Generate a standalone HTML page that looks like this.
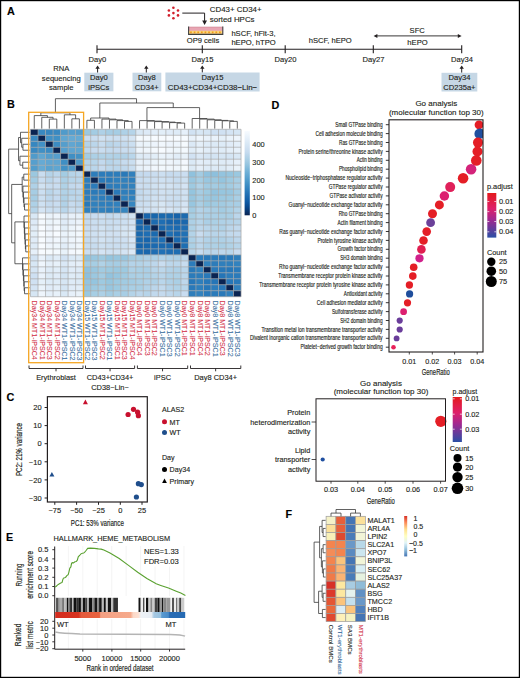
<!DOCTYPE html>
<html><head><meta charset="utf-8"><style>
html,body{margin:0;padding:0;background:#fff;width:520px;height:678px;overflow:hidden}
svg{display:block}
text{font-family:"Liberation Sans", sans-serif}
</style></head><body>
<svg width="520" height="678" viewBox="0 0 520 678">
<rect x="0" y="0" width="520" height="678" fill="#fff"/>
<text x="6.90" y="15.40" font-size="10.8" text-anchor="start" fill="#000" stroke="#000" stroke-width="0.13" font-weight="bold" >A</text>
<circle cx="173.40" cy="7.70" r="1.30" fill="#d11f2b"/>
<circle cx="168.90" cy="10.50" r="1.30" fill="#d11f2b"/>
<circle cx="178.00" cy="10.50" r="1.30" fill="#d11f2b"/>
<circle cx="173.40" cy="13.10" r="1.30" fill="#d11f2b"/>
<circle cx="168.90" cy="15.40" r="1.30" fill="#d11f2b"/>
<circle cx="178.00" cy="15.40" r="1.30" fill="#d11f2b"/>
<circle cx="173.40" cy="18.20" r="1.30" fill="#d11f2b"/>
<path d="M182.3,13.1 H204.6 V21.5" fill="none" stroke="#231f20" stroke-width="1"/>
<path d="M202.2,20.6 L207,20.6 L204.6,25 Z" fill="#231f20"/>
<text x="209.80" y="12.30" font-size="7.9" text-anchor="start" fill="#231f20" stroke="#231f20" stroke-width="0.13" font-weight="normal" >CD43+ CD34+</text>
<text x="209.80" y="21.90" font-size="7.9" text-anchor="start" fill="#231f20" stroke="#231f20" stroke-width="0.13" font-weight="normal" >sorted HPCs</text>
<rect x="188.60" y="26.90" width="34.20" height="7.60" fill="#e8a5b3" stroke="none" stroke-width="1" />
<line x1="188.60" y1="27.10" x2="222.80" y2="27.10" stroke="#c77c8c" stroke-width="0.5"/>
<rect x="189.00" y="30.80" width="33.40" height="3.00" fill="#f9d77c" stroke="none" stroke-width="1" />
<rect x="190.10" y="31.50" width="1.70" height="1.70" fill="#f39a1a" stroke="none" stroke-width="1" />
<rect x="193.72" y="31.50" width="1.70" height="1.70" fill="#f39a1a" stroke="none" stroke-width="1" />
<rect x="197.34" y="31.50" width="1.70" height="1.70" fill="#f39a1a" stroke="none" stroke-width="1" />
<rect x="200.96" y="31.50" width="1.70" height="1.70" fill="#f39a1a" stroke="none" stroke-width="1" />
<rect x="204.58" y="31.50" width="1.70" height="1.70" fill="#f39a1a" stroke="none" stroke-width="1" />
<rect x="208.20" y="31.50" width="1.70" height="1.70" fill="#f39a1a" stroke="none" stroke-width="1" />
<rect x="211.82" y="31.50" width="1.70" height="1.70" fill="#f39a1a" stroke="none" stroke-width="1" />
<rect x="215.44" y="31.50" width="1.70" height="1.70" fill="#f39a1a" stroke="none" stroke-width="1" />
<rect x="219.06" y="31.50" width="1.70" height="1.70" fill="#f39a1a" stroke="none" stroke-width="1" />
<path d="M188.6,26.5 V34.4 H222.8 V26.5" fill="none" stroke="#404040" stroke-width="1.1"/>
<text x="203.00" y="43.20" font-size="7.6" text-anchor="middle" fill="#231f20" stroke="#231f20" stroke-width="0.13" font-weight="normal" >OP9 cells</text>
<text x="231.40" y="35.60" font-size="7.6" text-anchor="start" fill="#231f20" stroke="#231f20" stroke-width="0.13" font-weight="normal" >hSCF, hFlt-3,</text>
<text x="231.40" y="45.20" font-size="7.6" text-anchor="start" fill="#231f20" stroke="#231f20" stroke-width="0.13" font-weight="normal" >hEPO, hTPO</text>
<line x1="97.00" y1="49.20" x2="461.70" y2="49.20" stroke="#231f20" stroke-width="1.1"/>
<line x1="97.00" y1="45.30" x2="97.00" y2="53.20" stroke="#231f20" stroke-width="1.1"/>
<text x="97.30" y="61.80" font-size="7.6" text-anchor="middle" fill="#231f20" stroke="#231f20" stroke-width="0.13" font-weight="normal" >Day0</text>
<line x1="202.30" y1="45.30" x2="202.30" y2="53.20" stroke="#231f20" stroke-width="1.1"/>
<text x="202.60" y="61.80" font-size="7.6" text-anchor="middle" fill="#231f20" stroke="#231f20" stroke-width="0.13" font-weight="normal" >Day15</text>
<line x1="285.20" y1="45.30" x2="285.20" y2="53.20" stroke="#231f20" stroke-width="1.1"/>
<text x="285.50" y="61.80" font-size="7.6" text-anchor="middle" fill="#231f20" stroke="#231f20" stroke-width="0.13" font-weight="normal" >Day20</text>
<line x1="373.30" y1="45.30" x2="373.30" y2="53.20" stroke="#231f20" stroke-width="1.1"/>
<text x="373.60" y="61.80" font-size="7.6" text-anchor="middle" fill="#231f20" stroke="#231f20" stroke-width="0.13" font-weight="normal" >Day27</text>
<line x1="461.70" y1="45.30" x2="461.70" y2="53.20" stroke="#231f20" stroke-width="1.1"/>
<text x="462.00" y="61.80" font-size="7.6" text-anchor="middle" fill="#231f20" stroke="#231f20" stroke-width="0.13" font-weight="normal" >Day34</text>
<text x="330.20" y="42.80" font-size="7.6" text-anchor="middle" fill="#231f20" stroke="#231f20" stroke-width="0.13" font-weight="normal" >hSCF, hEPO</text>
<text x="417.20" y="33.00" font-size="7.6" text-anchor="middle" fill="#231f20" stroke="#231f20" stroke-width="0.13" font-weight="normal" >SFC</text>
<text x="417.50" y="45.30" font-size="7.6" text-anchor="middle" fill="#231f20" stroke="#231f20" stroke-width="0.13" font-weight="normal" >hEPO</text>
<line x1="375.50" y1="35.90" x2="459.70" y2="35.90" stroke="#231f20" stroke-width="0.9"/>
<path d="M373.6,35.9 L377.4,33.9 L377.4,37.9 Z" fill="#231f20"/>
<path d="M461.6,35.9 L457.8,33.9 L457.8,37.9 Z" fill="#231f20"/>
<line x1="97.60" y1="68.00" x2="97.60" y2="72.70" stroke="#231f20" stroke-width="1"/>
<path d="M95.40,68.70 L97.60,65.50 L99.80,68.70 Z" fill="#231f20"/>
<line x1="146.30" y1="68.00" x2="146.30" y2="72.70" stroke="#231f20" stroke-width="1"/>
<path d="M144.10,68.70 L146.30,65.50 L148.50,68.70 Z" fill="#231f20"/>
<line x1="202.30" y1="68.00" x2="202.30" y2="72.70" stroke="#231f20" stroke-width="1"/>
<path d="M200.10,68.70 L202.30,65.50 L204.50,68.70 Z" fill="#231f20"/>
<line x1="461.70" y1="68.00" x2="461.70" y2="72.70" stroke="#231f20" stroke-width="1"/>
<path d="M459.50,68.70 L461.70,65.50 L463.90,68.70 Z" fill="#231f20"/>
<rect x="84.30" y="72.70" width="29.10" height="18.60" fill="#c6d7e5" stroke="none" stroke-width="1" />
<rect x="132.50" y="72.70" width="28.80" height="18.60" fill="#c6d7e5" stroke="none" stroke-width="1" />
<rect x="165.40" y="72.50" width="94.20" height="19.00" fill="#c6d7e5" stroke="none" stroke-width="1" />
<rect x="441.50" y="72.80" width="35.80" height="18.70" fill="#c6d7e5" stroke="none" stroke-width="1" />
<text x="98.80" y="79.70" font-size="7.6" text-anchor="middle" fill="#231f20" stroke="#231f20" stroke-width="0.13" font-weight="normal" >Day0</text>
<text x="98.80" y="89.60" font-size="7.6" text-anchor="middle" fill="#231f20" stroke="#231f20" stroke-width="0.13" font-weight="normal" >iPSCs</text>
<text x="146.80" y="79.70" font-size="7.6" text-anchor="middle" fill="#231f20" stroke="#231f20" stroke-width="0.13" font-weight="normal" >Day8</text>
<text x="146.80" y="89.60" font-size="7.6" text-anchor="middle" fill="#231f20" stroke="#231f20" stroke-width="0.13" font-weight="normal" >CD34+</text>
<text x="212.50" y="79.70" font-size="7.6" text-anchor="middle" fill="#231f20" stroke="#231f20" stroke-width="0.13" font-weight="normal" >Day15</text>
<text x="212.50" y="89.60" font-size="7.9" text-anchor="middle" fill="#231f20" stroke="#231f20" stroke-width="0.13" font-weight="normal" >CD43+CD34+CD38−Lin−</text>
<text x="459.40" y="79.70" font-size="7.6" text-anchor="middle" fill="#231f20" stroke="#231f20" stroke-width="0.13" font-weight="normal" >Day34</text>
<text x="459.40" y="89.60" font-size="7.6" text-anchor="middle" fill="#231f20" stroke="#231f20" stroke-width="0.13" font-weight="normal" >CD235a+</text>
<text x="61.30" y="71.00" font-size="7.6" text-anchor="middle" fill="#231f20" stroke="#231f20" stroke-width="0.13" font-weight="normal" >RNA</text>
<text x="61.30" y="80.80" font-size="7.6" text-anchor="middle" fill="#231f20" stroke="#231f20" stroke-width="0.13" font-weight="normal" >sequencing</text>
<text x="61.30" y="90.20" font-size="7.6" text-anchor="middle" fill="#231f20" stroke="#231f20" stroke-width="0.13" font-weight="normal" >sample</text>
<text x="6.90" y="108.40" font-size="10.8" text-anchor="start" fill="#000" stroke="#000" stroke-width="0.13" font-weight="bold" >B</text>
<g><rect x="30.50" y="129.30" width="7.52" height="5.98" fill="#0a2452"/><rect x="38.02" y="129.30" width="7.52" height="5.98" fill="#3989c1"/><rect x="45.54" y="129.30" width="7.52" height="5.98" fill="#3787c0"/><rect x="53.06" y="129.30" width="7.52" height="5.98" fill="#3989c1"/><rect x="60.58" y="129.30" width="7.52" height="5.98" fill="#4f9bcb"/><rect x="68.10" y="129.30" width="7.52" height="5.98" fill="#569fce"/><rect x="75.62" y="129.30" width="7.52" height="5.98" fill="#529dcc"/><rect x="83.14" y="129.30" width="7.52" height="5.98" fill="#9bc8e0"/><rect x="90.66" y="129.30" width="7.52" height="5.98" fill="#a3cce3"/><rect x="98.18" y="129.30" width="7.52" height="5.98" fill="#afd1e7"/><rect x="105.70" y="129.30" width="7.52" height="5.98" fill="#a6cde4"/><rect x="113.22" y="129.30" width="7.52" height="5.98" fill="#a5cde4"/><rect x="120.74" y="129.30" width="7.52" height="5.98" fill="#aed1e7"/><rect x="128.26" y="129.30" width="7.52" height="5.98" fill="#b5d4e9"/><rect x="135.78" y="129.30" width="7.52" height="5.98" fill="#d9e8f5"/><rect x="143.30" y="129.30" width="7.52" height="5.98" fill="#ddeaf7"/><rect x="150.82" y="129.30" width="7.52" height="5.98" fill="#e1edf8"/><rect x="158.34" y="129.30" width="7.52" height="5.98" fill="#e2eef8"/><rect x="165.86" y="129.30" width="7.52" height="5.98" fill="#e0ecf8"/><rect x="173.38" y="129.30" width="7.52" height="5.98" fill="#deebf7"/><rect x="180.90" y="129.30" width="7.52" height="5.98" fill="#e6f0fa"/><rect x="188.42" y="129.30" width="7.52" height="5.98" fill="#d1e2f3"/><rect x="195.94" y="129.30" width="7.52" height="5.98" fill="#d7e7f5"/><rect x="203.46" y="129.30" width="7.52" height="5.98" fill="#d5e5f4"/><rect x="210.98" y="129.30" width="7.52" height="5.98" fill="#cee0f2"/><rect x="218.50" y="129.30" width="7.52" height="5.98" fill="#d0e1f2"/><rect x="226.02" y="129.30" width="7.52" height="5.98" fill="#d4e4f4"/><rect x="233.54" y="129.30" width="7.52" height="5.98" fill="#d6e6f4"/><rect x="30.50" y="135.28" width="7.52" height="5.98" fill="#3989c1"/><rect x="38.02" y="135.28" width="7.52" height="5.98" fill="#0a2452"/><rect x="45.54" y="135.28" width="7.52" height="5.98" fill="#4191c6"/><rect x="53.06" y="135.28" width="7.52" height="5.98" fill="#4090c5"/><rect x="60.58" y="135.28" width="7.52" height="5.98" fill="#60a7d2"/><rect x="68.10" y="135.28" width="7.52" height="5.98" fill="#66aad4"/><rect x="75.62" y="135.28" width="7.52" height="5.98" fill="#65aad4"/><rect x="83.14" y="135.28" width="7.52" height="5.98" fill="#c9ddf0"/><rect x="90.66" y="135.28" width="7.52" height="5.98" fill="#c9ddf0"/><rect x="98.18" y="135.28" width="7.52" height="5.98" fill="#d0e2f2"/><rect x="105.70" y="135.28" width="7.52" height="5.98" fill="#cbdff1"/><rect x="113.22" y="135.28" width="7.52" height="5.98" fill="#cbdff1"/><rect x="120.74" y="135.28" width="7.52" height="5.98" fill="#cee1f2"/><rect x="128.26" y="135.28" width="7.52" height="5.98" fill="#d5e5f4"/><rect x="135.78" y="135.28" width="7.52" height="5.98" fill="#f5fafe"/><rect x="143.30" y="135.28" width="7.52" height="5.98" fill="#f4f9fe"/><rect x="150.82" y="135.28" width="7.52" height="5.98" fill="#f7fbff"/><rect x="158.34" y="135.28" width="7.52" height="5.98" fill="#f7fbff"/><rect x="165.86" y="135.28" width="7.52" height="5.98" fill="#f7fbff"/><rect x="173.38" y="135.28" width="7.52" height="5.98" fill="#f7fbff"/><rect x="180.90" y="135.28" width="7.52" height="5.98" fill="#f7fbff"/><rect x="188.42" y="135.28" width="7.52" height="5.98" fill="#e9f2fb"/><rect x="195.94" y="135.28" width="7.52" height="5.98" fill="#eff6fd"/><rect x="203.46" y="135.28" width="7.52" height="5.98" fill="#e9f2fb"/><rect x="210.98" y="135.28" width="7.52" height="5.98" fill="#e9f2fb"/><rect x="218.50" y="135.28" width="7.52" height="5.98" fill="#e5f0f9"/><rect x="226.02" y="135.28" width="7.52" height="5.98" fill="#eaf3fb"/><rect x="233.54" y="135.28" width="7.52" height="5.98" fill="#eef5fc"/><rect x="30.50" y="141.26" width="7.52" height="5.98" fill="#3787c0"/><rect x="38.02" y="141.26" width="7.52" height="5.98" fill="#4191c6"/><rect x="45.54" y="141.26" width="7.52" height="5.98" fill="#0a2452"/><rect x="53.06" y="141.26" width="7.52" height="5.98" fill="#3b8bc3"/><rect x="60.58" y="141.26" width="7.52" height="5.98" fill="#549ecd"/><rect x="68.10" y="141.26" width="7.52" height="5.98" fill="#60a6d2"/><rect x="75.62" y="141.26" width="7.52" height="5.98" fill="#5aa3d0"/><rect x="83.14" y="141.26" width="7.52" height="5.98" fill="#b4d3e9"/><rect x="90.66" y="141.26" width="7.52" height="5.98" fill="#bbd6eb"/><rect x="98.18" y="141.26" width="7.52" height="5.98" fill="#c7dcef"/><rect x="105.70" y="141.26" width="7.52" height="5.98" fill="#b9d5ea"/><rect x="113.22" y="141.26" width="7.52" height="5.98" fill="#bdd7ec"/><rect x="120.74" y="141.26" width="7.52" height="5.98" fill="#c4daee"/><rect x="128.26" y="141.26" width="7.52" height="5.98" fill="#cbdff1"/><rect x="135.78" y="141.26" width="7.52" height="5.98" fill="#eaf3fb"/><rect x="143.30" y="141.26" width="7.52" height="5.98" fill="#ebf4fb"/><rect x="150.82" y="141.26" width="7.52" height="5.98" fill="#edf4fc"/><rect x="158.34" y="141.26" width="7.52" height="5.98" fill="#f1f7fd"/><rect x="165.86" y="141.26" width="7.52" height="5.98" fill="#edf4fc"/><rect x="173.38" y="141.26" width="7.52" height="5.98" fill="#eef5fc"/><rect x="180.90" y="141.26" width="7.52" height="5.98" fill="#f5fafe"/><rect x="188.42" y="141.26" width="7.52" height="5.98" fill="#dbe9f6"/><rect x="195.94" y="141.26" width="7.52" height="5.98" fill="#e4eff9"/><rect x="203.46" y="141.26" width="7.52" height="5.98" fill="#deebf7"/><rect x="210.98" y="141.26" width="7.52" height="5.98" fill="#dceaf6"/><rect x="218.50" y="141.26" width="7.52" height="5.98" fill="#ddebf7"/><rect x="226.02" y="141.26" width="7.52" height="5.98" fill="#e0ecf8"/><rect x="233.54" y="141.26" width="7.52" height="5.98" fill="#e4eff9"/><rect x="30.50" y="147.24" width="7.52" height="5.98" fill="#3989c1"/><rect x="38.02" y="147.24" width="7.52" height="5.98" fill="#4090c5"/><rect x="45.54" y="147.24" width="7.52" height="5.98" fill="#3b8bc3"/><rect x="53.06" y="147.24" width="7.52" height="5.98" fill="#0a2452"/><rect x="60.58" y="147.24" width="7.52" height="5.98" fill="#569fce"/><rect x="68.10" y="147.24" width="7.52" height="5.98" fill="#5fa5d1"/><rect x="75.62" y="147.24" width="7.52" height="5.98" fill="#5fa6d1"/><rect x="83.14" y="147.24" width="7.52" height="5.98" fill="#bdd7ec"/><rect x="90.66" y="147.24" width="7.52" height="5.98" fill="#c7dbef"/><rect x="98.18" y="147.24" width="7.52" height="5.98" fill="#c9ddf0"/><rect x="105.70" y="147.24" width="7.52" height="5.98" fill="#c3daee"/><rect x="113.22" y="147.24" width="7.52" height="5.98" fill="#c5daef"/><rect x="120.74" y="147.24" width="7.52" height="5.98" fill="#c9ddf0"/><rect x="128.26" y="147.24" width="7.52" height="5.98" fill="#cadef0"/><rect x="135.78" y="147.24" width="7.52" height="5.98" fill="#eef5fc"/><rect x="143.30" y="147.24" width="7.52" height="5.98" fill="#eff6fc"/><rect x="150.82" y="147.24" width="7.52" height="5.98" fill="#f4f9fe"/><rect x="158.34" y="147.24" width="7.52" height="5.98" fill="#f7fbff"/><rect x="165.86" y="147.24" width="7.52" height="5.98" fill="#f1f7fd"/><rect x="173.38" y="147.24" width="7.52" height="5.98" fill="#eef6fc"/><rect x="180.90" y="147.24" width="7.52" height="5.98" fill="#f3f9fe"/><rect x="188.42" y="147.24" width="7.52" height="5.98" fill="#e1edf8"/><rect x="195.94" y="147.24" width="7.52" height="5.98" fill="#e7f1fa"/><rect x="203.46" y="147.24" width="7.52" height="5.98" fill="#e1edf8"/><rect x="210.98" y="147.24" width="7.52" height="5.98" fill="#e0ecf8"/><rect x="218.50" y="147.24" width="7.52" height="5.98" fill="#dfecf7"/><rect x="226.02" y="147.24" width="7.52" height="5.98" fill="#e3eef8"/><rect x="233.54" y="147.24" width="7.52" height="5.98" fill="#e7f1fa"/><rect x="30.50" y="153.22" width="7.52" height="5.98" fill="#4f9bcb"/><rect x="38.02" y="153.22" width="7.52" height="5.98" fill="#60a7d2"/><rect x="45.54" y="153.22" width="7.52" height="5.98" fill="#549ecd"/><rect x="53.06" y="153.22" width="7.52" height="5.98" fill="#569fce"/><rect x="60.58" y="153.22" width="7.52" height="5.98" fill="#0a2452"/><rect x="68.10" y="153.22" width="7.52" height="5.98" fill="#3f8fc4"/><rect x="75.62" y="153.22" width="7.52" height="5.98" fill="#4191c5"/><rect x="83.14" y="153.22" width="7.52" height="5.98" fill="#a3cce3"/><rect x="90.66" y="153.22" width="7.52" height="5.98" fill="#acd0e6"/><rect x="98.18" y="153.22" width="7.52" height="5.98" fill="#b0d2e7"/><rect x="105.70" y="153.22" width="7.52" height="5.98" fill="#b1d2e8"/><rect x="113.22" y="153.22" width="7.52" height="5.98" fill="#afd1e7"/><rect x="120.74" y="153.22" width="7.52" height="5.98" fill="#b1d2e8"/><rect x="128.26" y="153.22" width="7.52" height="5.98" fill="#b9d6eb"/><rect x="135.78" y="153.22" width="7.52" height="5.98" fill="#ddebf7"/><rect x="143.30" y="153.22" width="7.52" height="5.98" fill="#dfebf7"/><rect x="150.82" y="153.22" width="7.52" height="5.98" fill="#e2eef8"/><rect x="158.34" y="153.22" width="7.52" height="5.98" fill="#eaf3fb"/><rect x="165.86" y="153.22" width="7.52" height="5.98" fill="#e7f1fa"/><rect x="173.38" y="153.22" width="7.52" height="5.98" fill="#e1edf8"/><rect x="180.90" y="153.22" width="7.52" height="5.98" fill="#e8f2fa"/><rect x="188.42" y="153.22" width="7.52" height="5.98" fill="#d1e2f3"/><rect x="195.94" y="153.22" width="7.52" height="5.98" fill="#dae8f6"/><rect x="203.46" y="153.22" width="7.52" height="5.98" fill="#d5e5f4"/><rect x="210.98" y="153.22" width="7.52" height="5.98" fill="#d3e4f3"/><rect x="218.50" y="153.22" width="7.52" height="5.98" fill="#d6e6f4"/><rect x="226.02" y="153.22" width="7.52" height="5.98" fill="#d4e5f4"/><rect x="233.54" y="153.22" width="7.52" height="5.98" fill="#d9e8f5"/><rect x="30.50" y="159.20" width="7.52" height="5.98" fill="#569fce"/><rect x="38.02" y="159.20" width="7.52" height="5.98" fill="#66aad4"/><rect x="45.54" y="159.20" width="7.52" height="5.98" fill="#60a6d2"/><rect x="53.06" y="159.20" width="7.52" height="5.98" fill="#5fa5d1"/><rect x="60.58" y="159.20" width="7.52" height="5.98" fill="#3f8fc4"/><rect x="68.10" y="159.20" width="7.52" height="5.98" fill="#0a2452"/><rect x="75.62" y="159.20" width="7.52" height="5.98" fill="#4d9aca"/><rect x="83.14" y="159.20" width="7.52" height="5.98" fill="#b5d4e9"/><rect x="90.66" y="159.20" width="7.52" height="5.98" fill="#b7d5ea"/><rect x="98.18" y="159.20" width="7.52" height="5.98" fill="#c2d9ee"/><rect x="105.70" y="159.20" width="7.52" height="5.98" fill="#b6d4ea"/><rect x="113.22" y="159.20" width="7.52" height="5.98" fill="#bcd7eb"/><rect x="120.74" y="159.20" width="7.52" height="5.98" fill="#c6dbef"/><rect x="128.26" y="159.20" width="7.52" height="5.98" fill="#cadef0"/><rect x="135.78" y="159.20" width="7.52" height="5.98" fill="#e8f1fa"/><rect x="143.30" y="159.20" width="7.52" height="5.98" fill="#e6f0fa"/><rect x="150.82" y="159.20" width="7.52" height="5.98" fill="#ecf4fb"/><rect x="158.34" y="159.20" width="7.52" height="5.98" fill="#eef6fc"/><rect x="165.86" y="159.20" width="7.52" height="5.98" fill="#eef5fc"/><rect x="173.38" y="159.20" width="7.52" height="5.98" fill="#eaf3fb"/><rect x="180.90" y="159.20" width="7.52" height="5.98" fill="#f3f8fe"/><rect x="188.42" y="159.20" width="7.52" height="5.98" fill="#dae9f6"/><rect x="195.94" y="159.20" width="7.52" height="5.98" fill="#e3eef9"/><rect x="203.46" y="159.20" width="7.52" height="5.98" fill="#e0ecf8"/><rect x="210.98" y="159.20" width="7.52" height="5.98" fill="#dfecf7"/><rect x="218.50" y="159.20" width="7.52" height="5.98" fill="#deebf7"/><rect x="226.02" y="159.20" width="7.52" height="5.98" fill="#e0ecf8"/><rect x="233.54" y="159.20" width="7.52" height="5.98" fill="#e6f0fa"/><rect x="30.50" y="165.18" width="7.52" height="5.98" fill="#529dcc"/><rect x="38.02" y="165.18" width="7.52" height="5.98" fill="#65aad4"/><rect x="45.54" y="165.18" width="7.52" height="5.98" fill="#5aa3d0"/><rect x="53.06" y="165.18" width="7.52" height="5.98" fill="#5fa6d1"/><rect x="60.58" y="165.18" width="7.52" height="5.98" fill="#4191c5"/><rect x="68.10" y="165.18" width="7.52" height="5.98" fill="#4d9aca"/><rect x="75.62" y="165.18" width="7.52" height="5.98" fill="#0a2452"/><rect x="83.14" y="165.18" width="7.52" height="5.98" fill="#b9d6eb"/><rect x="90.66" y="165.18" width="7.52" height="5.98" fill="#bad6eb"/><rect x="98.18" y="165.18" width="7.52" height="5.98" fill="#c5daef"/><rect x="105.70" y="165.18" width="7.52" height="5.98" fill="#bcd7ec"/><rect x="113.22" y="165.18" width="7.52" height="5.98" fill="#bad6eb"/><rect x="120.74" y="165.18" width="7.52" height="5.98" fill="#c0d8ed"/><rect x="128.26" y="165.18" width="7.52" height="5.98" fill="#c8ddf0"/><rect x="135.78" y="165.18" width="7.52" height="5.98" fill="#e7f1fa"/><rect x="143.30" y="165.18" width="7.52" height="5.98" fill="#ebf3fb"/><rect x="150.82" y="165.18" width="7.52" height="5.98" fill="#f1f7fd"/><rect x="158.34" y="165.18" width="7.52" height="5.98" fill="#f2f8fd"/><rect x="165.86" y="165.18" width="7.52" height="5.98" fill="#f0f7fd"/><rect x="173.38" y="165.18" width="7.52" height="5.98" fill="#eff6fc"/><rect x="180.90" y="165.18" width="7.52" height="5.98" fill="#f5fafe"/><rect x="188.42" y="165.18" width="7.52" height="5.98" fill="#dceaf6"/><rect x="195.94" y="165.18" width="7.52" height="5.98" fill="#e5eff9"/><rect x="203.46" y="165.18" width="7.52" height="5.98" fill="#deebf7"/><rect x="210.98" y="165.18" width="7.52" height="5.98" fill="#dceaf6"/><rect x="218.50" y="165.18" width="7.52" height="5.98" fill="#dceaf6"/><rect x="226.02" y="165.18" width="7.52" height="5.98" fill="#e1edf8"/><rect x="233.54" y="165.18" width="7.52" height="5.98" fill="#e9f2fa"/><rect x="30.50" y="171.16" width="7.52" height="5.98" fill="#9bc8e0"/><rect x="38.02" y="171.16" width="7.52" height="5.98" fill="#c9ddf0"/><rect x="45.54" y="171.16" width="7.52" height="5.98" fill="#b4d3e9"/><rect x="53.06" y="171.16" width="7.52" height="5.98" fill="#bdd7ec"/><rect x="60.58" y="171.16" width="7.52" height="5.98" fill="#a3cce3"/><rect x="68.10" y="171.16" width="7.52" height="5.98" fill="#b5d4e9"/><rect x="75.62" y="171.16" width="7.52" height="5.98" fill="#b9d6eb"/><rect x="83.14" y="171.16" width="7.52" height="5.98" fill="#0a2452"/><rect x="90.66" y="171.16" width="7.52" height="5.98" fill="#2d7dbb"/><rect x="98.18" y="171.16" width="7.52" height="5.98" fill="#2c7cbb"/><rect x="105.70" y="171.16" width="7.52" height="5.98" fill="#2c7cbb"/><rect x="113.22" y="171.16" width="7.52" height="5.98" fill="#2d7dbb"/><rect x="120.74" y="171.16" width="7.52" height="5.98" fill="#2979b9"/><rect x="128.26" y="171.16" width="7.52" height="5.98" fill="#3080bd"/><rect x="135.78" y="171.16" width="7.52" height="5.98" fill="#c4daee"/><rect x="143.30" y="171.16" width="7.52" height="5.98" fill="#c5daef"/><rect x="150.82" y="171.16" width="7.52" height="5.98" fill="#caddf0"/><rect x="158.34" y="171.16" width="7.52" height="5.98" fill="#ccdff1"/><rect x="165.86" y="171.16" width="7.52" height="5.98" fill="#c6dbef"/><rect x="173.38" y="171.16" width="7.52" height="5.98" fill="#c7dcef"/><rect x="180.90" y="171.16" width="7.52" height="5.98" fill="#cbdef1"/><rect x="188.42" y="171.16" width="7.52" height="5.98" fill="#8fc2de"/><rect x="195.94" y="171.16" width="7.52" height="5.98" fill="#a3cce3"/><rect x="203.46" y="171.16" width="7.52" height="5.98" fill="#90c2de"/><rect x="210.98" y="171.16" width="7.52" height="5.98" fill="#8dc0dd"/><rect x="218.50" y="171.16" width="7.52" height="5.98" fill="#93c4df"/><rect x="226.02" y="171.16" width="7.52" height="5.98" fill="#95c5df"/><rect x="233.54" y="171.16" width="7.52" height="5.98" fill="#9ac8e0"/><rect x="30.50" y="177.14" width="7.52" height="5.98" fill="#a3cce3"/><rect x="38.02" y="177.14" width="7.52" height="5.98" fill="#c9ddf0"/><rect x="45.54" y="177.14" width="7.52" height="5.98" fill="#bbd6eb"/><rect x="53.06" y="177.14" width="7.52" height="5.98" fill="#c7dbef"/><rect x="60.58" y="177.14" width="7.52" height="5.98" fill="#acd0e6"/><rect x="68.10" y="177.14" width="7.52" height="5.98" fill="#b7d5ea"/><rect x="75.62" y="177.14" width="7.52" height="5.98" fill="#bad6eb"/><rect x="83.14" y="177.14" width="7.52" height="5.98" fill="#2d7dbb"/><rect x="90.66" y="177.14" width="7.52" height="5.98" fill="#0a2452"/><rect x="98.18" y="177.14" width="7.52" height="5.98" fill="#2b7bba"/><rect x="105.70" y="177.14" width="7.52" height="5.98" fill="#2a7ab9"/><rect x="113.22" y="177.14" width="7.52" height="5.98" fill="#3080bd"/><rect x="120.74" y="177.14" width="7.52" height="5.98" fill="#3181bd"/><rect x="128.26" y="177.14" width="7.52" height="5.98" fill="#2e7ebc"/><rect x="135.78" y="177.14" width="7.52" height="5.98" fill="#c8dcf0"/><rect x="143.30" y="177.14" width="7.52" height="5.98" fill="#cadef0"/><rect x="150.82" y="177.14" width="7.52" height="5.98" fill="#cddff1"/><rect x="158.34" y="177.14" width="7.52" height="5.98" fill="#cfe1f2"/><rect x="165.86" y="177.14" width="7.52" height="5.98" fill="#ccdff1"/><rect x="173.38" y="177.14" width="7.52" height="5.98" fill="#c7dcef"/><rect x="180.90" y="177.14" width="7.52" height="5.98" fill="#cde0f1"/><rect x="188.42" y="177.14" width="7.52" height="5.98" fill="#99c7e0"/><rect x="195.94" y="177.14" width="7.52" height="5.98" fill="#a6cee4"/><rect x="203.46" y="177.14" width="7.52" height="5.98" fill="#99c7e0"/><rect x="210.98" y="177.14" width="7.52" height="5.98" fill="#9bc8e0"/><rect x="218.50" y="177.14" width="7.52" height="5.98" fill="#94c5df"/><rect x="226.02" y="177.14" width="7.52" height="5.98" fill="#9ecae1"/><rect x="233.54" y="177.14" width="7.52" height="5.98" fill="#a7cee4"/><rect x="30.50" y="183.12" width="7.52" height="5.98" fill="#afd1e7"/><rect x="38.02" y="183.12" width="7.52" height="5.98" fill="#d0e2f2"/><rect x="45.54" y="183.12" width="7.52" height="5.98" fill="#c7dcef"/><rect x="53.06" y="183.12" width="7.52" height="5.98" fill="#c9ddf0"/><rect x="60.58" y="183.12" width="7.52" height="5.98" fill="#b0d2e7"/><rect x="68.10" y="183.12" width="7.52" height="5.98" fill="#c2d9ee"/><rect x="75.62" y="183.12" width="7.52" height="5.98" fill="#c5daef"/><rect x="83.14" y="183.12" width="7.52" height="5.98" fill="#2c7cbb"/><rect x="90.66" y="183.12" width="7.52" height="5.98" fill="#2b7bba"/><rect x="98.18" y="183.12" width="7.52" height="5.98" fill="#0a2452"/><rect x="105.70" y="183.12" width="7.52" height="5.98" fill="#2c7cbb"/><rect x="113.22" y="183.12" width="7.52" height="5.98" fill="#2d7dbb"/><rect x="120.74" y="183.12" width="7.52" height="5.98" fill="#2f7fbc"/><rect x="128.26" y="183.12" width="7.52" height="5.98" fill="#3181bd"/><rect x="135.78" y="183.12" width="7.52" height="5.98" fill="#cbdef1"/><rect x="143.30" y="183.12" width="7.52" height="5.98" fill="#cadef0"/><rect x="150.82" y="183.12" width="7.52" height="5.98" fill="#d0e2f2"/><rect x="158.34" y="183.12" width="7.52" height="5.98" fill="#d2e3f3"/><rect x="165.86" y="183.12" width="7.52" height="5.98" fill="#d2e3f3"/><rect x="173.38" y="183.12" width="7.52" height="5.98" fill="#cde0f1"/><rect x="180.90" y="183.12" width="7.52" height="5.98" fill="#d4e4f4"/><rect x="188.42" y="183.12" width="7.52" height="5.98" fill="#9ecae1"/><rect x="195.94" y="183.12" width="7.52" height="5.98" fill="#b0d2e7"/><rect x="203.46" y="183.12" width="7.52" height="5.98" fill="#a1cbe2"/><rect x="210.98" y="183.12" width="7.52" height="5.98" fill="#a3cce3"/><rect x="218.50" y="183.12" width="7.52" height="5.98" fill="#9ecae1"/><rect x="226.02" y="183.12" width="7.52" height="5.98" fill="#a2cce3"/><rect x="233.54" y="183.12" width="7.52" height="5.98" fill="#acd0e6"/><rect x="30.50" y="189.10" width="7.52" height="5.98" fill="#a6cde4"/><rect x="38.02" y="189.10" width="7.52" height="5.98" fill="#cbdff1"/><rect x="45.54" y="189.10" width="7.52" height="5.98" fill="#b9d5ea"/><rect x="53.06" y="189.10" width="7.52" height="5.98" fill="#c3daee"/><rect x="60.58" y="189.10" width="7.52" height="5.98" fill="#b1d2e8"/><rect x="68.10" y="189.10" width="7.52" height="5.98" fill="#b6d4ea"/><rect x="75.62" y="189.10" width="7.52" height="5.98" fill="#bcd7ec"/><rect x="83.14" y="189.10" width="7.52" height="5.98" fill="#2c7cbb"/><rect x="90.66" y="189.10" width="7.52" height="5.98" fill="#2a7ab9"/><rect x="98.18" y="189.10" width="7.52" height="5.98" fill="#2c7cbb"/><rect x="105.70" y="189.10" width="7.52" height="5.98" fill="#0a2452"/><rect x="113.22" y="189.10" width="7.52" height="5.98" fill="#2979b9"/><rect x="120.74" y="189.10" width="7.52" height="5.98" fill="#2e7ebc"/><rect x="128.26" y="189.10" width="7.52" height="5.98" fill="#2e7ebc"/><rect x="135.78" y="189.10" width="7.52" height="5.98" fill="#c2d9ee"/><rect x="143.30" y="189.10" width="7.52" height="5.98" fill="#c9ddf0"/><rect x="150.82" y="189.10" width="7.52" height="5.98" fill="#cadef0"/><rect x="158.34" y="189.10" width="7.52" height="5.98" fill="#d0e1f2"/><rect x="165.86" y="189.10" width="7.52" height="5.98" fill="#cde0f1"/><rect x="173.38" y="189.10" width="7.52" height="5.98" fill="#cadef0"/><rect x="180.90" y="189.10" width="7.52" height="5.98" fill="#cfe1f2"/><rect x="188.42" y="189.10" width="7.52" height="5.98" fill="#94c5df"/><rect x="195.94" y="189.10" width="7.52" height="5.98" fill="#a6cde4"/><rect x="203.46" y="189.10" width="7.52" height="5.98" fill="#9dcae1"/><rect x="210.98" y="189.10" width="7.52" height="5.98" fill="#92c3de"/><rect x="218.50" y="189.10" width="7.52" height="5.98" fill="#96c6df"/><rect x="226.02" y="189.10" width="7.52" height="5.98" fill="#97c6e0"/><rect x="233.54" y="189.10" width="7.52" height="5.98" fill="#a3cce3"/><rect x="30.50" y="195.08" width="7.52" height="5.98" fill="#a5cde4"/><rect x="38.02" y="195.08" width="7.52" height="5.98" fill="#cbdff1"/><rect x="45.54" y="195.08" width="7.52" height="5.98" fill="#bdd7ec"/><rect x="53.06" y="195.08" width="7.52" height="5.98" fill="#c5daef"/><rect x="60.58" y="195.08" width="7.52" height="5.98" fill="#afd1e7"/><rect x="68.10" y="195.08" width="7.52" height="5.98" fill="#bcd7eb"/><rect x="75.62" y="195.08" width="7.52" height="5.98" fill="#bad6eb"/><rect x="83.14" y="195.08" width="7.52" height="5.98" fill="#2d7dbb"/><rect x="90.66" y="195.08" width="7.52" height="5.98" fill="#3080bd"/><rect x="98.18" y="195.08" width="7.52" height="5.98" fill="#2d7dbb"/><rect x="105.70" y="195.08" width="7.52" height="5.98" fill="#2979b9"/><rect x="113.22" y="195.08" width="7.52" height="5.98" fill="#0a2452"/><rect x="120.74" y="195.08" width="7.52" height="5.98" fill="#3181bd"/><rect x="128.26" y="195.08" width="7.52" height="5.98" fill="#3181bd"/><rect x="135.78" y="195.08" width="7.52" height="5.98" fill="#c7dcef"/><rect x="143.30" y="195.08" width="7.52" height="5.98" fill="#c9ddf0"/><rect x="150.82" y="195.08" width="7.52" height="5.98" fill="#cfe1f2"/><rect x="158.34" y="195.08" width="7.52" height="5.98" fill="#d0e1f2"/><rect x="165.86" y="195.08" width="7.52" height="5.98" fill="#ccdff1"/><rect x="173.38" y="195.08" width="7.52" height="5.98" fill="#cadef0"/><rect x="180.90" y="195.08" width="7.52" height="5.98" fill="#d0e2f2"/><rect x="188.42" y="195.08" width="7.52" height="5.98" fill="#97c6df"/><rect x="195.94" y="195.08" width="7.52" height="5.98" fill="#a5cde4"/><rect x="203.46" y="195.08" width="7.52" height="5.98" fill="#9bc8e0"/><rect x="210.98" y="195.08" width="7.52" height="5.98" fill="#97c6df"/><rect x="218.50" y="195.08" width="7.52" height="5.98" fill="#9cc9e1"/><rect x="226.02" y="195.08" width="7.52" height="5.98" fill="#9dcae1"/><rect x="233.54" y="195.08" width="7.52" height="5.98" fill="#a9cfe5"/><rect x="30.50" y="201.06" width="7.52" height="5.98" fill="#aed1e7"/><rect x="38.02" y="201.06" width="7.52" height="5.98" fill="#cee1f2"/><rect x="45.54" y="201.06" width="7.52" height="5.98" fill="#c4daee"/><rect x="53.06" y="201.06" width="7.52" height="5.98" fill="#c9ddf0"/><rect x="60.58" y="201.06" width="7.52" height="5.98" fill="#b1d2e8"/><rect x="68.10" y="201.06" width="7.52" height="5.98" fill="#c6dbef"/><rect x="75.62" y="201.06" width="7.52" height="5.98" fill="#c0d8ed"/><rect x="83.14" y="201.06" width="7.52" height="5.98" fill="#2979b9"/><rect x="90.66" y="201.06" width="7.52" height="5.98" fill="#3181bd"/><rect x="98.18" y="201.06" width="7.52" height="5.98" fill="#2f7fbc"/><rect x="105.70" y="201.06" width="7.52" height="5.98" fill="#2e7ebc"/><rect x="113.22" y="201.06" width="7.52" height="5.98" fill="#3181bd"/><rect x="120.74" y="201.06" width="7.52" height="5.98" fill="#0a2452"/><rect x="128.26" y="201.06" width="7.52" height="5.98" fill="#3686c0"/><rect x="135.78" y="201.06" width="7.52" height="5.98" fill="#c9ddf0"/><rect x="143.30" y="201.06" width="7.52" height="5.98" fill="#ccdff1"/><rect x="150.82" y="201.06" width="7.52" height="5.98" fill="#d3e4f3"/><rect x="158.34" y="201.06" width="7.52" height="5.98" fill="#d6e6f4"/><rect x="165.86" y="201.06" width="7.52" height="5.98" fill="#cee0f2"/><rect x="173.38" y="201.06" width="7.52" height="5.98" fill="#cbdff1"/><rect x="180.90" y="201.06" width="7.52" height="5.98" fill="#d4e4f4"/><rect x="188.42" y="201.06" width="7.52" height="5.98" fill="#97c6e0"/><rect x="195.94" y="201.06" width="7.52" height="5.98" fill="#aacfe5"/><rect x="203.46" y="201.06" width="7.52" height="5.98" fill="#9dcae1"/><rect x="210.98" y="201.06" width="7.52" height="5.98" fill="#a0cbe2"/><rect x="218.50" y="201.06" width="7.52" height="5.98" fill="#a1cbe2"/><rect x="226.02" y="201.06" width="7.52" height="5.98" fill="#a6cde4"/><rect x="233.54" y="201.06" width="7.52" height="5.98" fill="#a8cee5"/><rect x="30.50" y="207.04" width="7.52" height="5.98" fill="#b5d4e9"/><rect x="38.02" y="207.04" width="7.52" height="5.98" fill="#d5e5f4"/><rect x="45.54" y="207.04" width="7.52" height="5.98" fill="#cbdff1"/><rect x="53.06" y="207.04" width="7.52" height="5.98" fill="#cadef0"/><rect x="60.58" y="207.04" width="7.52" height="5.98" fill="#b9d6eb"/><rect x="68.10" y="207.04" width="7.52" height="5.98" fill="#cadef0"/><rect x="75.62" y="207.04" width="7.52" height="5.98" fill="#c8ddf0"/><rect x="83.14" y="207.04" width="7.52" height="5.98" fill="#3080bd"/><rect x="90.66" y="207.04" width="7.52" height="5.98" fill="#2e7ebc"/><rect x="98.18" y="207.04" width="7.52" height="5.98" fill="#3181bd"/><rect x="105.70" y="207.04" width="7.52" height="5.98" fill="#2e7ebc"/><rect x="113.22" y="207.04" width="7.52" height="5.98" fill="#3181bd"/><rect x="120.74" y="207.04" width="7.52" height="5.98" fill="#3686c0"/><rect x="128.26" y="207.04" width="7.52" height="5.98" fill="#0a2452"/><rect x="135.78" y="207.04" width="7.52" height="5.98" fill="#d0e2f2"/><rect x="143.30" y="207.04" width="7.52" height="5.98" fill="#d1e2f3"/><rect x="150.82" y="207.04" width="7.52" height="5.98" fill="#d3e3f3"/><rect x="158.34" y="207.04" width="7.52" height="5.98" fill="#dbe9f6"/><rect x="165.86" y="207.04" width="7.52" height="5.98" fill="#d7e6f5"/><rect x="173.38" y="207.04" width="7.52" height="5.98" fill="#d0e2f2"/><rect x="180.90" y="207.04" width="7.52" height="5.98" fill="#dbe9f6"/><rect x="188.42" y="207.04" width="7.52" height="5.98" fill="#a3cce3"/><rect x="195.94" y="207.04" width="7.52" height="5.98" fill="#b4d3e9"/><rect x="203.46" y="207.04" width="7.52" height="5.98" fill="#aed1e7"/><rect x="210.98" y="207.04" width="7.52" height="5.98" fill="#aacfe5"/><rect x="218.50" y="207.04" width="7.52" height="5.98" fill="#a3cce3"/><rect x="226.02" y="207.04" width="7.52" height="5.98" fill="#a9cfe5"/><rect x="233.54" y="207.04" width="7.52" height="5.98" fill="#b3d3e8"/><rect x="30.50" y="213.02" width="7.52" height="5.98" fill="#d9e8f5"/><rect x="38.02" y="213.02" width="7.52" height="5.98" fill="#f5fafe"/><rect x="45.54" y="213.02" width="7.52" height="5.98" fill="#eaf3fb"/><rect x="53.06" y="213.02" width="7.52" height="5.98" fill="#eef5fc"/><rect x="60.58" y="213.02" width="7.52" height="5.98" fill="#ddebf7"/><rect x="68.10" y="213.02" width="7.52" height="5.98" fill="#e8f1fa"/><rect x="75.62" y="213.02" width="7.52" height="5.98" fill="#e7f1fa"/><rect x="83.14" y="213.02" width="7.52" height="5.98" fill="#c4daee"/><rect x="90.66" y="213.02" width="7.52" height="5.98" fill="#c8dcf0"/><rect x="98.18" y="213.02" width="7.52" height="5.98" fill="#cbdef1"/><rect x="105.70" y="213.02" width="7.52" height="5.98" fill="#c2d9ee"/><rect x="113.22" y="213.02" width="7.52" height="5.98" fill="#c7dcef"/><rect x="120.74" y="213.02" width="7.52" height="5.98" fill="#c9ddf0"/><rect x="128.26" y="213.02" width="7.52" height="5.98" fill="#d0e2f2"/><rect x="135.78" y="213.02" width="7.52" height="5.98" fill="#0a2452"/><rect x="143.30" y="213.02" width="7.52" height="5.98" fill="#1865ac"/><rect x="150.82" y="213.02" width="7.52" height="5.98" fill="#1866ac"/><rect x="158.34" y="213.02" width="7.52" height="5.98" fill="#1a69ae"/><rect x="165.86" y="213.02" width="7.52" height="5.98" fill="#1b6aaf"/><rect x="173.38" y="213.02" width="7.52" height="5.98" fill="#1663aa"/><rect x="180.90" y="213.02" width="7.52" height="5.98" fill="#1c6bb0"/><rect x="188.42" y="213.02" width="7.52" height="5.98" fill="#a7cee4"/><rect x="195.94" y="213.02" width="7.52" height="5.98" fill="#b3d3e8"/><rect x="203.46" y="213.02" width="7.52" height="5.98" fill="#abd0e6"/><rect x="210.98" y="213.02" width="7.52" height="5.98" fill="#abd0e6"/><rect x="218.50" y="213.02" width="7.52" height="5.98" fill="#a9cfe5"/><rect x="226.02" y="213.02" width="7.52" height="5.98" fill="#a9cfe5"/><rect x="233.54" y="213.02" width="7.52" height="5.98" fill="#bbd6eb"/><rect x="30.50" y="219.00" width="7.52" height="5.98" fill="#ddeaf7"/><rect x="38.02" y="219.00" width="7.52" height="5.98" fill="#f4f9fe"/><rect x="45.54" y="219.00" width="7.52" height="5.98" fill="#ebf4fb"/><rect x="53.06" y="219.00" width="7.52" height="5.98" fill="#eff6fc"/><rect x="60.58" y="219.00" width="7.52" height="5.98" fill="#dfebf7"/><rect x="68.10" y="219.00" width="7.52" height="5.98" fill="#e6f0fa"/><rect x="75.62" y="219.00" width="7.52" height="5.98" fill="#ebf3fb"/><rect x="83.14" y="219.00" width="7.52" height="5.98" fill="#c5daef"/><rect x="90.66" y="219.00" width="7.52" height="5.98" fill="#cadef0"/><rect x="98.18" y="219.00" width="7.52" height="5.98" fill="#cadef0"/><rect x="105.70" y="219.00" width="7.52" height="5.98" fill="#c9ddf0"/><rect x="113.22" y="219.00" width="7.52" height="5.98" fill="#c9ddf0"/><rect x="120.74" y="219.00" width="7.52" height="5.98" fill="#ccdff1"/><rect x="128.26" y="219.00" width="7.52" height="5.98" fill="#d1e2f3"/><rect x="135.78" y="219.00" width="7.52" height="5.98" fill="#1865ac"/><rect x="143.30" y="219.00" width="7.52" height="5.98" fill="#0a2452"/><rect x="150.82" y="219.00" width="7.52" height="5.98" fill="#1c6bb0"/><rect x="158.34" y="219.00" width="7.52" height="5.98" fill="#1f6eb3"/><rect x="165.86" y="219.00" width="7.52" height="5.98" fill="#1865ac"/><rect x="173.38" y="219.00" width="7.52" height="5.98" fill="#1866ac"/><rect x="180.90" y="219.00" width="7.52" height="5.98" fill="#1967ad"/><rect x="188.42" y="219.00" width="7.52" height="5.98" fill="#add0e6"/><rect x="195.94" y="219.00" width="7.52" height="5.98" fill="#b7d5ea"/><rect x="203.46" y="219.00" width="7.52" height="5.98" fill="#abcfe6"/><rect x="210.98" y="219.00" width="7.52" height="5.98" fill="#abd0e6"/><rect x="218.50" y="219.00" width="7.52" height="5.98" fill="#afd1e7"/><rect x="226.02" y="219.00" width="7.52" height="5.98" fill="#b2d2e8"/><rect x="233.54" y="219.00" width="7.52" height="5.98" fill="#b6d4e9"/><rect x="30.50" y="224.98" width="7.52" height="5.98" fill="#e1edf8"/><rect x="38.02" y="224.98" width="7.52" height="5.98" fill="#f7fbff"/><rect x="45.54" y="224.98" width="7.52" height="5.98" fill="#edf4fc"/><rect x="53.06" y="224.98" width="7.52" height="5.98" fill="#f4f9fe"/><rect x="60.58" y="224.98" width="7.52" height="5.98" fill="#e2eef8"/><rect x="68.10" y="224.98" width="7.52" height="5.98" fill="#ecf4fb"/><rect x="75.62" y="224.98" width="7.52" height="5.98" fill="#f1f7fd"/><rect x="83.14" y="224.98" width="7.52" height="5.98" fill="#caddf0"/><rect x="90.66" y="224.98" width="7.52" height="5.98" fill="#cddff1"/><rect x="98.18" y="224.98" width="7.52" height="5.98" fill="#d0e2f2"/><rect x="105.70" y="224.98" width="7.52" height="5.98" fill="#cadef0"/><rect x="113.22" y="224.98" width="7.52" height="5.98" fill="#cfe1f2"/><rect x="120.74" y="224.98" width="7.52" height="5.98" fill="#d3e4f3"/><rect x="128.26" y="224.98" width="7.52" height="5.98" fill="#d3e3f3"/><rect x="135.78" y="224.98" width="7.52" height="5.98" fill="#1866ac"/><rect x="143.30" y="224.98" width="7.52" height="5.98" fill="#1c6bb0"/><rect x="150.82" y="224.98" width="7.52" height="5.98" fill="#0a2452"/><rect x="158.34" y="224.98" width="7.52" height="5.98" fill="#1b6aaf"/><rect x="165.86" y="224.98" width="7.52" height="5.98" fill="#1f6eb3"/><rect x="173.38" y="224.98" width="7.52" height="5.98" fill="#1c6ab0"/><rect x="180.90" y="224.98" width="7.52" height="5.98" fill="#1f6eb3"/><rect x="188.42" y="224.98" width="7.52" height="5.98" fill="#aed1e6"/><rect x="195.94" y="224.98" width="7.52" height="5.98" fill="#bdd7ec"/><rect x="203.46" y="224.98" width="7.52" height="5.98" fill="#b8d5ea"/><rect x="210.98" y="224.98" width="7.52" height="5.98" fill="#b3d3e8"/><rect x="218.50" y="224.98" width="7.52" height="5.98" fill="#afd1e7"/><rect x="226.02" y="224.98" width="7.52" height="5.98" fill="#bbd6eb"/><rect x="233.54" y="224.98" width="7.52" height="5.98" fill="#c1d9ed"/><rect x="30.50" y="230.96" width="7.52" height="5.98" fill="#e2eef8"/><rect x="38.02" y="230.96" width="7.52" height="5.98" fill="#f7fbff"/><rect x="45.54" y="230.96" width="7.52" height="5.98" fill="#f1f7fd"/><rect x="53.06" y="230.96" width="7.52" height="5.98" fill="#f7fbff"/><rect x="60.58" y="230.96" width="7.52" height="5.98" fill="#eaf3fb"/><rect x="68.10" y="230.96" width="7.52" height="5.98" fill="#eef6fc"/><rect x="75.62" y="230.96" width="7.52" height="5.98" fill="#f2f8fd"/><rect x="83.14" y="230.96" width="7.52" height="5.98" fill="#ccdff1"/><rect x="90.66" y="230.96" width="7.52" height="5.98" fill="#cfe1f2"/><rect x="98.18" y="230.96" width="7.52" height="5.98" fill="#d2e3f3"/><rect x="105.70" y="230.96" width="7.52" height="5.98" fill="#d0e1f2"/><rect x="113.22" y="230.96" width="7.52" height="5.98" fill="#d0e1f2"/><rect x="120.74" y="230.96" width="7.52" height="5.98" fill="#d6e6f4"/><rect x="128.26" y="230.96" width="7.52" height="5.98" fill="#dbe9f6"/><rect x="135.78" y="230.96" width="7.52" height="5.98" fill="#1a69ae"/><rect x="143.30" y="230.96" width="7.52" height="5.98" fill="#1f6eb3"/><rect x="150.82" y="230.96" width="7.52" height="5.98" fill="#1b6aaf"/><rect x="158.34" y="230.96" width="7.52" height="5.98" fill="#0a2452"/><rect x="165.86" y="230.96" width="7.52" height="5.98" fill="#1f6fb3"/><rect x="173.38" y="230.96" width="7.52" height="5.98" fill="#1a68ae"/><rect x="180.90" y="230.96" width="7.52" height="5.98" fill="#2171b5"/><rect x="188.42" y="230.96" width="7.52" height="5.98" fill="#b3d3e8"/><rect x="195.94" y="230.96" width="7.52" height="5.98" fill="#c9ddf0"/><rect x="203.46" y="230.96" width="7.52" height="5.98" fill="#bcd7eb"/><rect x="210.98" y="230.96" width="7.52" height="5.98" fill="#b8d5ea"/><rect x="218.50" y="230.96" width="7.52" height="5.98" fill="#b9d6eb"/><rect x="226.02" y="230.96" width="7.52" height="5.98" fill="#c1d9ed"/><rect x="233.54" y="230.96" width="7.52" height="5.98" fill="#c4daee"/><rect x="30.50" y="236.94" width="7.52" height="5.98" fill="#e0ecf8"/><rect x="38.02" y="236.94" width="7.52" height="5.98" fill="#f7fbff"/><rect x="45.54" y="236.94" width="7.52" height="5.98" fill="#edf4fc"/><rect x="53.06" y="236.94" width="7.52" height="5.98" fill="#f1f7fd"/><rect x="60.58" y="236.94" width="7.52" height="5.98" fill="#e7f1fa"/><rect x="68.10" y="236.94" width="7.52" height="5.98" fill="#eef5fc"/><rect x="75.62" y="236.94" width="7.52" height="5.98" fill="#f0f7fd"/><rect x="83.14" y="236.94" width="7.52" height="5.98" fill="#c6dbef"/><rect x="90.66" y="236.94" width="7.52" height="5.98" fill="#ccdff1"/><rect x="98.18" y="236.94" width="7.52" height="5.98" fill="#d2e3f3"/><rect x="105.70" y="236.94" width="7.52" height="5.98" fill="#cde0f1"/><rect x="113.22" y="236.94" width="7.52" height="5.98" fill="#ccdff1"/><rect x="120.74" y="236.94" width="7.52" height="5.98" fill="#cee0f2"/><rect x="128.26" y="236.94" width="7.52" height="5.98" fill="#d7e6f5"/><rect x="135.78" y="236.94" width="7.52" height="5.98" fill="#1b6aaf"/><rect x="143.30" y="236.94" width="7.52" height="5.98" fill="#1865ac"/><rect x="150.82" y="236.94" width="7.52" height="5.98" fill="#1f6eb3"/><rect x="158.34" y="236.94" width="7.52" height="5.98" fill="#1f6fb3"/><rect x="165.86" y="236.94" width="7.52" height="5.98" fill="#0a2452"/><rect x="173.38" y="236.94" width="7.52" height="5.98" fill="#1967ad"/><rect x="180.90" y="236.94" width="7.52" height="5.98" fill="#1e6db2"/><rect x="188.42" y="236.94" width="7.52" height="5.98" fill="#aed1e7"/><rect x="195.94" y="236.94" width="7.52" height="5.98" fill="#bcd7ec"/><rect x="203.46" y="236.94" width="7.52" height="5.98" fill="#b2d2e8"/><rect x="210.98" y="236.94" width="7.52" height="5.98" fill="#aed1e7"/><rect x="218.50" y="236.94" width="7.52" height="5.98" fill="#afd1e7"/><rect x="226.02" y="236.94" width="7.52" height="5.98" fill="#b4d3e9"/><rect x="233.54" y="236.94" width="7.52" height="5.98" fill="#bdd7ec"/><rect x="30.50" y="242.92" width="7.52" height="5.98" fill="#deebf7"/><rect x="38.02" y="242.92" width="7.52" height="5.98" fill="#f7fbff"/><rect x="45.54" y="242.92" width="7.52" height="5.98" fill="#eef5fc"/><rect x="53.06" y="242.92" width="7.52" height="5.98" fill="#eef6fc"/><rect x="60.58" y="242.92" width="7.52" height="5.98" fill="#e1edf8"/><rect x="68.10" y="242.92" width="7.52" height="5.98" fill="#eaf3fb"/><rect x="75.62" y="242.92" width="7.52" height="5.98" fill="#eff6fc"/><rect x="83.14" y="242.92" width="7.52" height="5.98" fill="#c7dcef"/><rect x="90.66" y="242.92" width="7.52" height="5.98" fill="#c7dcef"/><rect x="98.18" y="242.92" width="7.52" height="5.98" fill="#cde0f1"/><rect x="105.70" y="242.92" width="7.52" height="5.98" fill="#cadef0"/><rect x="113.22" y="242.92" width="7.52" height="5.98" fill="#cadef0"/><rect x="120.74" y="242.92" width="7.52" height="5.98" fill="#cbdff1"/><rect x="128.26" y="242.92" width="7.52" height="5.98" fill="#d0e2f2"/><rect x="135.78" y="242.92" width="7.52" height="5.98" fill="#1663aa"/><rect x="143.30" y="242.92" width="7.52" height="5.98" fill="#1866ac"/><rect x="150.82" y="242.92" width="7.52" height="5.98" fill="#1c6ab0"/><rect x="158.34" y="242.92" width="7.52" height="5.98" fill="#1a68ae"/><rect x="165.86" y="242.92" width="7.52" height="5.98" fill="#1967ad"/><rect x="173.38" y="242.92" width="7.52" height="5.98" fill="#0a2452"/><rect x="180.90" y="242.92" width="7.52" height="5.98" fill="#1e6eb2"/><rect x="188.42" y="242.92" width="7.52" height="5.98" fill="#abd0e6"/><rect x="195.94" y="242.92" width="7.52" height="5.98" fill="#bcd7ec"/><rect x="203.46" y="242.92" width="7.52" height="5.98" fill="#afd1e7"/><rect x="210.98" y="242.92" width="7.52" height="5.98" fill="#aed1e6"/><rect x="218.50" y="242.92" width="7.52" height="5.98" fill="#aacfe5"/><rect x="226.02" y="242.92" width="7.52" height="5.98" fill="#b0d2e7"/><rect x="233.54" y="242.92" width="7.52" height="5.98" fill="#b7d5ea"/><rect x="30.50" y="248.90" width="7.52" height="5.98" fill="#e6f0fa"/><rect x="38.02" y="248.90" width="7.52" height="5.98" fill="#f7fbff"/><rect x="45.54" y="248.90" width="7.52" height="5.98" fill="#f5fafe"/><rect x="53.06" y="248.90" width="7.52" height="5.98" fill="#f3f9fe"/><rect x="60.58" y="248.90" width="7.52" height="5.98" fill="#e8f2fa"/><rect x="68.10" y="248.90" width="7.52" height="5.98" fill="#f3f8fe"/><rect x="75.62" y="248.90" width="7.52" height="5.98" fill="#f5fafe"/><rect x="83.14" y="248.90" width="7.52" height="5.98" fill="#cbdef1"/><rect x="90.66" y="248.90" width="7.52" height="5.98" fill="#cde0f1"/><rect x="98.18" y="248.90" width="7.52" height="5.98" fill="#d4e4f4"/><rect x="105.70" y="248.90" width="7.52" height="5.98" fill="#cfe1f2"/><rect x="113.22" y="248.90" width="7.52" height="5.98" fill="#d0e2f2"/><rect x="120.74" y="248.90" width="7.52" height="5.98" fill="#d4e4f4"/><rect x="128.26" y="248.90" width="7.52" height="5.98" fill="#dbe9f6"/><rect x="135.78" y="248.90" width="7.52" height="5.98" fill="#1c6bb0"/><rect x="143.30" y="248.90" width="7.52" height="5.98" fill="#1967ad"/><rect x="150.82" y="248.90" width="7.52" height="5.98" fill="#1f6eb3"/><rect x="158.34" y="248.90" width="7.52" height="5.98" fill="#2171b5"/><rect x="165.86" y="248.90" width="7.52" height="5.98" fill="#1e6db2"/><rect x="173.38" y="248.90" width="7.52" height="5.98" fill="#1e6eb2"/><rect x="180.90" y="248.90" width="7.52" height="5.98" fill="#0a2452"/><rect x="188.42" y="248.90" width="7.52" height="5.98" fill="#bad6eb"/><rect x="195.94" y="248.90" width="7.52" height="5.98" fill="#c7dcef"/><rect x="203.46" y="248.90" width="7.52" height="5.98" fill="#bad6eb"/><rect x="210.98" y="248.90" width="7.52" height="5.98" fill="#bad6eb"/><rect x="218.50" y="248.90" width="7.52" height="5.98" fill="#bed7ec"/><rect x="226.02" y="248.90" width="7.52" height="5.98" fill="#b9d6eb"/><rect x="233.54" y="248.90" width="7.52" height="5.98" fill="#c8dcf0"/><rect x="30.50" y="254.88" width="7.52" height="5.98" fill="#d1e2f3"/><rect x="38.02" y="254.88" width="7.52" height="5.98" fill="#e9f2fb"/><rect x="45.54" y="254.88" width="7.52" height="5.98" fill="#dbe9f6"/><rect x="53.06" y="254.88" width="7.52" height="5.98" fill="#e1edf8"/><rect x="60.58" y="254.88" width="7.52" height="5.98" fill="#d1e2f3"/><rect x="68.10" y="254.88" width="7.52" height="5.98" fill="#dae9f6"/><rect x="75.62" y="254.88" width="7.52" height="5.98" fill="#dceaf6"/><rect x="83.14" y="254.88" width="7.52" height="5.98" fill="#8fc2de"/><rect x="90.66" y="254.88" width="7.52" height="5.98" fill="#99c7e0"/><rect x="98.18" y="254.88" width="7.52" height="5.98" fill="#9ecae1"/><rect x="105.70" y="254.88" width="7.52" height="5.98" fill="#94c5df"/><rect x="113.22" y="254.88" width="7.52" height="5.98" fill="#97c6df"/><rect x="120.74" y="254.88" width="7.52" height="5.98" fill="#97c6e0"/><rect x="128.26" y="254.88" width="7.52" height="5.98" fill="#a3cce3"/><rect x="135.78" y="254.88" width="7.52" height="5.98" fill="#a7cee4"/><rect x="143.30" y="254.88" width="7.52" height="5.98" fill="#add0e6"/><rect x="150.82" y="254.88" width="7.52" height="5.98" fill="#aed1e6"/><rect x="158.34" y="254.88" width="7.52" height="5.98" fill="#b3d3e8"/><rect x="165.86" y="254.88" width="7.52" height="5.98" fill="#aed1e7"/><rect x="173.38" y="254.88" width="7.52" height="5.98" fill="#abd0e6"/><rect x="180.90" y="254.88" width="7.52" height="5.98" fill="#bad6eb"/><rect x="188.42" y="254.88" width="7.52" height="5.98" fill="#0a2452"/><rect x="195.94" y="254.88" width="7.52" height="5.98" fill="#2c7cbb"/><rect x="203.46" y="254.88" width="7.52" height="5.98" fill="#2979b9"/><rect x="210.98" y="254.88" width="7.52" height="5.98" fill="#2b7bba"/><rect x="218.50" y="254.88" width="7.52" height="5.98" fill="#2777b8"/><rect x="226.02" y="254.88" width="7.52" height="5.98" fill="#2979b9"/><rect x="233.54" y="254.88" width="7.52" height="5.98" fill="#2e7ebb"/><rect x="30.50" y="260.86" width="7.52" height="5.98" fill="#d7e7f5"/><rect x="38.02" y="260.86" width="7.52" height="5.98" fill="#eff6fd"/><rect x="45.54" y="260.86" width="7.52" height="5.98" fill="#e4eff9"/><rect x="53.06" y="260.86" width="7.52" height="5.98" fill="#e7f1fa"/><rect x="60.58" y="260.86" width="7.52" height="5.98" fill="#dae8f6"/><rect x="68.10" y="260.86" width="7.52" height="5.98" fill="#e3eef9"/><rect x="75.62" y="260.86" width="7.52" height="5.98" fill="#e5eff9"/><rect x="83.14" y="260.86" width="7.52" height="5.98" fill="#a3cce3"/><rect x="90.66" y="260.86" width="7.52" height="5.98" fill="#a6cee4"/><rect x="98.18" y="260.86" width="7.52" height="5.98" fill="#b0d2e7"/><rect x="105.70" y="260.86" width="7.52" height="5.98" fill="#a6cde4"/><rect x="113.22" y="260.86" width="7.52" height="5.98" fill="#a5cde4"/><rect x="120.74" y="260.86" width="7.52" height="5.98" fill="#aacfe5"/><rect x="128.26" y="260.86" width="7.52" height="5.98" fill="#b4d3e9"/><rect x="135.78" y="260.86" width="7.52" height="5.98" fill="#b3d3e8"/><rect x="143.30" y="260.86" width="7.52" height="5.98" fill="#b7d5ea"/><rect x="150.82" y="260.86" width="7.52" height="5.98" fill="#bdd7ec"/><rect x="158.34" y="260.86" width="7.52" height="5.98" fill="#c9ddf0"/><rect x="165.86" y="260.86" width="7.52" height="5.98" fill="#bcd7ec"/><rect x="173.38" y="260.86" width="7.52" height="5.98" fill="#bcd7ec"/><rect x="180.90" y="260.86" width="7.52" height="5.98" fill="#c7dcef"/><rect x="188.42" y="260.86" width="7.52" height="5.98" fill="#2c7cbb"/><rect x="195.94" y="260.86" width="7.52" height="5.98" fill="#0a2452"/><rect x="203.46" y="260.86" width="7.52" height="5.98" fill="#3181bd"/><rect x="210.98" y="260.86" width="7.52" height="5.98" fill="#2c7cba"/><rect x="218.50" y="260.86" width="7.52" height="5.98" fill="#2f7fbc"/><rect x="226.02" y="260.86" width="7.52" height="5.98" fill="#2f7fbc"/><rect x="233.54" y="260.86" width="7.52" height="5.98" fill="#3282be"/><rect x="30.50" y="266.84" width="7.52" height="5.98" fill="#d5e5f4"/><rect x="38.02" y="266.84" width="7.52" height="5.98" fill="#e9f2fb"/><rect x="45.54" y="266.84" width="7.52" height="5.98" fill="#deebf7"/><rect x="53.06" y="266.84" width="7.52" height="5.98" fill="#e1edf8"/><rect x="60.58" y="266.84" width="7.52" height="5.98" fill="#d5e5f4"/><rect x="68.10" y="266.84" width="7.52" height="5.98" fill="#e0ecf8"/><rect x="75.62" y="266.84" width="7.52" height="5.98" fill="#deebf7"/><rect x="83.14" y="266.84" width="7.52" height="5.98" fill="#90c2de"/><rect x="90.66" y="266.84" width="7.52" height="5.98" fill="#99c7e0"/><rect x="98.18" y="266.84" width="7.52" height="5.98" fill="#a1cbe2"/><rect x="105.70" y="266.84" width="7.52" height="5.98" fill="#9dcae1"/><rect x="113.22" y="266.84" width="7.52" height="5.98" fill="#9bc8e0"/><rect x="120.74" y="266.84" width="7.52" height="5.98" fill="#9dcae1"/><rect x="128.26" y="266.84" width="7.52" height="5.98" fill="#aed1e7"/><rect x="135.78" y="266.84" width="7.52" height="5.98" fill="#abd0e6"/><rect x="143.30" y="266.84" width="7.52" height="5.98" fill="#abcfe6"/><rect x="150.82" y="266.84" width="7.52" height="5.98" fill="#b8d5ea"/><rect x="158.34" y="266.84" width="7.52" height="5.98" fill="#bcd7eb"/><rect x="165.86" y="266.84" width="7.52" height="5.98" fill="#b2d2e8"/><rect x="173.38" y="266.84" width="7.52" height="5.98" fill="#afd1e7"/><rect x="180.90" y="266.84" width="7.52" height="5.98" fill="#bad6eb"/><rect x="188.42" y="266.84" width="7.52" height="5.98" fill="#2979b9"/><rect x="195.94" y="266.84" width="7.52" height="5.98" fill="#3181bd"/><rect x="203.46" y="266.84" width="7.52" height="5.98" fill="#0a2452"/><rect x="210.98" y="266.84" width="7.52" height="5.98" fill="#2979b9"/><rect x="218.50" y="266.84" width="7.52" height="5.98" fill="#2878b9"/><rect x="226.02" y="266.84" width="7.52" height="5.98" fill="#2777b8"/><rect x="233.54" y="266.84" width="7.52" height="5.98" fill="#2a7aba"/><rect x="30.50" y="272.82" width="7.52" height="5.98" fill="#cee0f2"/><rect x="38.02" y="272.82" width="7.52" height="5.98" fill="#e9f2fb"/><rect x="45.54" y="272.82" width="7.52" height="5.98" fill="#dceaf6"/><rect x="53.06" y="272.82" width="7.52" height="5.98" fill="#e0ecf8"/><rect x="60.58" y="272.82" width="7.52" height="5.98" fill="#d3e4f3"/><rect x="68.10" y="272.82" width="7.52" height="5.98" fill="#dfecf7"/><rect x="75.62" y="272.82" width="7.52" height="5.98" fill="#dceaf6"/><rect x="83.14" y="272.82" width="7.52" height="5.98" fill="#8dc0dd"/><rect x="90.66" y="272.82" width="7.52" height="5.98" fill="#9bc8e0"/><rect x="98.18" y="272.82" width="7.52" height="5.98" fill="#a3cce3"/><rect x="105.70" y="272.82" width="7.52" height="5.98" fill="#92c3de"/><rect x="113.22" y="272.82" width="7.52" height="5.98" fill="#97c6df"/><rect x="120.74" y="272.82" width="7.52" height="5.98" fill="#a0cbe2"/><rect x="128.26" y="272.82" width="7.52" height="5.98" fill="#aacfe5"/><rect x="135.78" y="272.82" width="7.52" height="5.98" fill="#abd0e6"/><rect x="143.30" y="272.82" width="7.52" height="5.98" fill="#abd0e6"/><rect x="150.82" y="272.82" width="7.52" height="5.98" fill="#b3d3e8"/><rect x="158.34" y="272.82" width="7.52" height="5.98" fill="#b8d5ea"/><rect x="165.86" y="272.82" width="7.52" height="5.98" fill="#aed1e7"/><rect x="173.38" y="272.82" width="7.52" height="5.98" fill="#aed1e6"/><rect x="180.90" y="272.82" width="7.52" height="5.98" fill="#bad6eb"/><rect x="188.42" y="272.82" width="7.52" height="5.98" fill="#2b7bba"/><rect x="195.94" y="272.82" width="7.52" height="5.98" fill="#2c7cba"/><rect x="203.46" y="272.82" width="7.52" height="5.98" fill="#2979b9"/><rect x="210.98" y="272.82" width="7.52" height="5.98" fill="#0a2452"/><rect x="218.50" y="272.82" width="7.52" height="5.98" fill="#2575b7"/><rect x="226.02" y="272.82" width="7.52" height="5.98" fill="#2c7cbb"/><rect x="233.54" y="272.82" width="7.52" height="5.98" fill="#2b7bba"/><rect x="30.50" y="278.80" width="7.52" height="5.98" fill="#d0e1f2"/><rect x="38.02" y="278.80" width="7.52" height="5.98" fill="#e5f0f9"/><rect x="45.54" y="278.80" width="7.52" height="5.98" fill="#ddebf7"/><rect x="53.06" y="278.80" width="7.52" height="5.98" fill="#dfecf7"/><rect x="60.58" y="278.80" width="7.52" height="5.98" fill="#d6e6f4"/><rect x="68.10" y="278.80" width="7.52" height="5.98" fill="#deebf7"/><rect x="75.62" y="278.80" width="7.52" height="5.98" fill="#dceaf6"/><rect x="83.14" y="278.80" width="7.52" height="5.98" fill="#93c4df"/><rect x="90.66" y="278.80" width="7.52" height="5.98" fill="#94c5df"/><rect x="98.18" y="278.80" width="7.52" height="5.98" fill="#9ecae1"/><rect x="105.70" y="278.80" width="7.52" height="5.98" fill="#96c6df"/><rect x="113.22" y="278.80" width="7.52" height="5.98" fill="#9cc9e1"/><rect x="120.74" y="278.80" width="7.52" height="5.98" fill="#a1cbe2"/><rect x="128.26" y="278.80" width="7.52" height="5.98" fill="#a3cce3"/><rect x="135.78" y="278.80" width="7.52" height="5.98" fill="#a9cfe5"/><rect x="143.30" y="278.80" width="7.52" height="5.98" fill="#afd1e7"/><rect x="150.82" y="278.80" width="7.52" height="5.98" fill="#afd1e7"/><rect x="158.34" y="278.80" width="7.52" height="5.98" fill="#b9d6eb"/><rect x="165.86" y="278.80" width="7.52" height="5.98" fill="#afd1e7"/><rect x="173.38" y="278.80" width="7.52" height="5.98" fill="#aacfe5"/><rect x="180.90" y="278.80" width="7.52" height="5.98" fill="#bed7ec"/><rect x="188.42" y="278.80" width="7.52" height="5.98" fill="#2777b8"/><rect x="195.94" y="278.80" width="7.52" height="5.98" fill="#2f7fbc"/><rect x="203.46" y="278.80" width="7.52" height="5.98" fill="#2878b9"/><rect x="210.98" y="278.80" width="7.52" height="5.98" fill="#2575b7"/><rect x="218.50" y="278.80" width="7.52" height="5.98" fill="#0a2452"/><rect x="226.02" y="278.80" width="7.52" height="5.98" fill="#2777b8"/><rect x="233.54" y="278.80" width="7.52" height="5.98" fill="#2979b9"/><rect x="30.50" y="284.78" width="7.52" height="5.98" fill="#d4e4f4"/><rect x="38.02" y="284.78" width="7.52" height="5.98" fill="#eaf3fb"/><rect x="45.54" y="284.78" width="7.52" height="5.98" fill="#e0ecf8"/><rect x="53.06" y="284.78" width="7.52" height="5.98" fill="#e3eef8"/><rect x="60.58" y="284.78" width="7.52" height="5.98" fill="#d4e5f4"/><rect x="68.10" y="284.78" width="7.52" height="5.98" fill="#e0ecf8"/><rect x="75.62" y="284.78" width="7.52" height="5.98" fill="#e1edf8"/><rect x="83.14" y="284.78" width="7.52" height="5.98" fill="#95c5df"/><rect x="90.66" y="284.78" width="7.52" height="5.98" fill="#9ecae1"/><rect x="98.18" y="284.78" width="7.52" height="5.98" fill="#a2cce3"/><rect x="105.70" y="284.78" width="7.52" height="5.98" fill="#97c6e0"/><rect x="113.22" y="284.78" width="7.52" height="5.98" fill="#9dcae1"/><rect x="120.74" y="284.78" width="7.52" height="5.98" fill="#a6cde4"/><rect x="128.26" y="284.78" width="7.52" height="5.98" fill="#a9cfe5"/><rect x="135.78" y="284.78" width="7.52" height="5.98" fill="#a9cfe5"/><rect x="143.30" y="284.78" width="7.52" height="5.98" fill="#b2d2e8"/><rect x="150.82" y="284.78" width="7.52" height="5.98" fill="#bbd6eb"/><rect x="158.34" y="284.78" width="7.52" height="5.98" fill="#c1d9ed"/><rect x="165.86" y="284.78" width="7.52" height="5.98" fill="#b4d3e9"/><rect x="173.38" y="284.78" width="7.52" height="5.98" fill="#b0d2e7"/><rect x="180.90" y="284.78" width="7.52" height="5.98" fill="#b9d6eb"/><rect x="188.42" y="284.78" width="7.52" height="5.98" fill="#2979b9"/><rect x="195.94" y="284.78" width="7.52" height="5.98" fill="#2f7fbc"/><rect x="203.46" y="284.78" width="7.52" height="5.98" fill="#2777b8"/><rect x="210.98" y="284.78" width="7.52" height="5.98" fill="#2c7cbb"/><rect x="218.50" y="284.78" width="7.52" height="5.98" fill="#2777b8"/><rect x="226.02" y="284.78" width="7.52" height="5.98" fill="#0a2452"/><rect x="233.54" y="284.78" width="7.52" height="5.98" fill="#3080bd"/><rect x="30.50" y="290.76" width="7.52" height="5.98" fill="#d6e6f4"/><rect x="38.02" y="290.76" width="7.52" height="5.98" fill="#eef5fc"/><rect x="45.54" y="290.76" width="7.52" height="5.98" fill="#e4eff9"/><rect x="53.06" y="290.76" width="7.52" height="5.98" fill="#e7f1fa"/><rect x="60.58" y="290.76" width="7.52" height="5.98" fill="#d9e8f5"/><rect x="68.10" y="290.76" width="7.52" height="5.98" fill="#e6f0fa"/><rect x="75.62" y="290.76" width="7.52" height="5.98" fill="#e9f2fa"/><rect x="83.14" y="290.76" width="7.52" height="5.98" fill="#9ac8e0"/><rect x="90.66" y="290.76" width="7.52" height="5.98" fill="#a7cee4"/><rect x="98.18" y="290.76" width="7.52" height="5.98" fill="#acd0e6"/><rect x="105.70" y="290.76" width="7.52" height="5.98" fill="#a3cce3"/><rect x="113.22" y="290.76" width="7.52" height="5.98" fill="#a9cfe5"/><rect x="120.74" y="290.76" width="7.52" height="5.98" fill="#a8cee5"/><rect x="128.26" y="290.76" width="7.52" height="5.98" fill="#b3d3e8"/><rect x="135.78" y="290.76" width="7.52" height="5.98" fill="#bbd6eb"/><rect x="143.30" y="290.76" width="7.52" height="5.98" fill="#b6d4e9"/><rect x="150.82" y="290.76" width="7.52" height="5.98" fill="#c1d9ed"/><rect x="158.34" y="290.76" width="7.52" height="5.98" fill="#c4daee"/><rect x="165.86" y="290.76" width="7.52" height="5.98" fill="#bdd7ec"/><rect x="173.38" y="290.76" width="7.52" height="5.98" fill="#b7d5ea"/><rect x="180.90" y="290.76" width="7.52" height="5.98" fill="#c8dcf0"/><rect x="188.42" y="290.76" width="7.52" height="5.98" fill="#2e7ebb"/><rect x="195.94" y="290.76" width="7.52" height="5.98" fill="#3282be"/><rect x="203.46" y="290.76" width="7.52" height="5.98" fill="#2a7aba"/><rect x="210.98" y="290.76" width="7.52" height="5.98" fill="#2b7bba"/><rect x="218.50" y="290.76" width="7.52" height="5.98" fill="#2979b9"/><rect x="226.02" y="290.76" width="7.52" height="5.98" fill="#3080bd"/><rect x="233.54" y="290.76" width="7.52" height="5.98" fill="#0a2452"/></g>
<g stroke="#a2a2a2" stroke-width="0.65"><line x1="30.50" y1="129.30" x2="30.50" y2="296.74"/><line x1="38.02" y1="129.30" x2="38.02" y2="296.74"/><line x1="45.54" y1="129.30" x2="45.54" y2="296.74"/><line x1="53.06" y1="129.30" x2="53.06" y2="296.74"/><line x1="60.58" y1="129.30" x2="60.58" y2="296.74"/><line x1="68.10" y1="129.30" x2="68.10" y2="296.74"/><line x1="75.62" y1="129.30" x2="75.62" y2="296.74"/><line x1="83.14" y1="129.30" x2="83.14" y2="296.74"/><line x1="90.66" y1="129.30" x2="90.66" y2="296.74"/><line x1="98.18" y1="129.30" x2="98.18" y2="296.74"/><line x1="105.70" y1="129.30" x2="105.70" y2="296.74"/><line x1="113.22" y1="129.30" x2="113.22" y2="296.74"/><line x1="120.74" y1="129.30" x2="120.74" y2="296.74"/><line x1="128.26" y1="129.30" x2="128.26" y2="296.74"/><line x1="135.78" y1="129.30" x2="135.78" y2="296.74"/><line x1="143.30" y1="129.30" x2="143.30" y2="296.74"/><line x1="150.82" y1="129.30" x2="150.82" y2="296.74"/><line x1="158.34" y1="129.30" x2="158.34" y2="296.74"/><line x1="165.86" y1="129.30" x2="165.86" y2="296.74"/><line x1="173.38" y1="129.30" x2="173.38" y2="296.74"/><line x1="180.90" y1="129.30" x2="180.90" y2="296.74"/><line x1="188.42" y1="129.30" x2="188.42" y2="296.74"/><line x1="195.94" y1="129.30" x2="195.94" y2="296.74"/><line x1="203.46" y1="129.30" x2="203.46" y2="296.74"/><line x1="210.98" y1="129.30" x2="210.98" y2="296.74"/><line x1="218.50" y1="129.30" x2="218.50" y2="296.74"/><line x1="226.02" y1="129.30" x2="226.02" y2="296.74"/><line x1="233.54" y1="129.30" x2="233.54" y2="296.74"/><line x1="241.06" y1="129.30" x2="241.06" y2="296.74"/><line x1="30.50" y1="129.30" x2="241.06" y2="129.30"/><line x1="30.50" y1="135.28" x2="241.06" y2="135.28"/><line x1="30.50" y1="141.26" x2="241.06" y2="141.26"/><line x1="30.50" y1="147.24" x2="241.06" y2="147.24"/><line x1="30.50" y1="153.22" x2="241.06" y2="153.22"/><line x1="30.50" y1="159.20" x2="241.06" y2="159.20"/><line x1="30.50" y1="165.18" x2="241.06" y2="165.18"/><line x1="30.50" y1="171.16" x2="241.06" y2="171.16"/><line x1="30.50" y1="177.14" x2="241.06" y2="177.14"/><line x1="30.50" y1="183.12" x2="241.06" y2="183.12"/><line x1="30.50" y1="189.10" x2="241.06" y2="189.10"/><line x1="30.50" y1="195.08" x2="241.06" y2="195.08"/><line x1="30.50" y1="201.06" x2="241.06" y2="201.06"/><line x1="30.50" y1="207.04" x2="241.06" y2="207.04"/><line x1="30.50" y1="213.02" x2="241.06" y2="213.02"/><line x1="30.50" y1="219.00" x2="241.06" y2="219.00"/><line x1="30.50" y1="224.98" x2="241.06" y2="224.98"/><line x1="30.50" y1="230.96" x2="241.06" y2="230.96"/><line x1="30.50" y1="236.94" x2="241.06" y2="236.94"/><line x1="30.50" y1="242.92" x2="241.06" y2="242.92"/><line x1="30.50" y1="248.90" x2="241.06" y2="248.90"/><line x1="30.50" y1="254.88" x2="241.06" y2="254.88"/><line x1="30.50" y1="260.86" x2="241.06" y2="260.86"/><line x1="30.50" y1="266.84" x2="241.06" y2="266.84"/><line x1="30.50" y1="272.82" x2="241.06" y2="272.82"/><line x1="30.50" y1="278.80" x2="241.06" y2="278.80"/><line x1="30.50" y1="284.78" x2="241.06" y2="284.78"/><line x1="30.50" y1="290.76" x2="241.06" y2="290.76"/><line x1="30.50" y1="296.74" x2="241.06" y2="296.74"/></g>
<path d="M49.30,128.60L49.30,119.10M56.82,128.60L56.82,119.10M49.30,119.10L56.82,119.10M41.78,128.60L41.78,117.30M53.06,119.10L53.06,117.30M41.78,117.30L53.06,117.30M34.26,128.60L34.26,115.60M47.42,117.30L47.42,115.60M34.26,115.60L47.42,115.60M71.86,128.60L71.86,118.80M79.38,128.60L79.38,118.80M71.86,118.80L79.38,118.80M64.34,128.60L64.34,114.80M75.62,118.80L75.62,114.80M64.34,114.80L75.62,114.80M40.84,115.60L40.84,112.80M69.98,114.80L69.98,112.80M40.84,112.80L69.98,112.80M86.90,128.60L86.90,120.30M94.42,128.60L94.42,120.30M86.90,120.30L94.42,120.30M124.50,128.60L124.50,121.40M132.02,128.60L132.02,121.40M124.50,121.40L132.02,121.40M116.98,128.60L116.98,120.60M128.26,121.40L128.26,120.60M116.98,120.60L128.26,120.60M109.46,128.60L109.46,119.80M122.62,120.60L122.62,119.80M109.46,119.80L122.62,119.80M101.94,128.60L101.94,119.10M116.04,119.80L116.04,119.10M101.94,119.10L116.04,119.10M90.66,120.30L90.66,118.00M108.99,119.10L108.99,118.00M90.66,118.00L108.99,118.00M177.14,128.60L177.14,123.10M184.66,128.60L184.66,123.10M177.14,123.10L184.66,123.10M169.62,128.60L169.62,122.60M180.90,123.10L180.90,122.60M169.62,122.60L180.90,122.60M162.10,128.60L162.10,122.10M175.26,122.60L175.26,122.10M162.10,122.10L175.26,122.10M154.58,128.60L154.58,121.60M168.68,122.10L168.68,121.60M154.58,121.60L168.68,121.60M147.06,128.60L147.06,121.10M161.63,121.60L161.63,121.10M147.06,121.10L161.63,121.10M139.54,128.60L139.54,120.60M154.34,121.10L154.34,120.60M139.54,120.60L154.34,120.60M229.78,128.60L229.78,121.40M237.30,128.60L237.30,121.40M229.78,121.40L237.30,121.40M222.26,128.60L222.26,120.80M233.54,121.40L233.54,120.80M222.26,120.80L233.54,120.80M214.74,128.60L214.74,120.40M227.90,120.80L227.90,120.40M214.74,120.40L227.90,120.40M207.22,128.60L207.22,119.80M221.32,120.40L221.32,119.80M207.22,119.80L221.32,119.80M199.70,128.60L199.70,119.10M214.27,119.80L214.27,119.10M199.70,119.10L214.27,119.10M192.18,128.60L192.18,118.50M206.98,119.10L206.98,118.50M192.18,118.50L206.98,118.50M146.94,120.60L146.94,107.60M199.58,118.50L199.58,107.60M146.94,107.60L199.58,107.60M99.82,118.00L99.82,103.00M173.26,107.60L173.26,103.00M99.82,103.00L173.26,103.00M55.41,112.80L55.41,98.70M136.54,103.00L136.54,98.70M55.41,98.70L136.54,98.70" stroke="#3a3a3a" stroke-width="0.8" fill="none"/>
<path d="M29.60,144.25L22.95,144.25M29.60,150.23L22.95,150.23M22.95,144.25L22.95,150.23M29.60,138.27L21.69,138.27M22.95,147.24L21.69,147.24M21.69,138.27L21.69,147.24M29.60,132.29L20.50,132.29M21.69,142.75L20.50,142.75M20.50,132.29L20.50,142.75M29.60,162.19L22.74,162.19M29.60,168.17L22.74,168.17M22.74,162.19L22.74,168.17M29.60,156.21L19.94,156.21M22.74,165.18L19.94,165.18M19.94,156.21L19.94,165.18M20.50,137.52L18.54,137.52M19.94,160.69L18.54,160.69M18.54,137.52L18.54,160.69M29.60,174.15L23.79,174.15M29.60,180.13L23.79,180.13M23.79,174.15L23.79,180.13M29.60,204.05L24.56,204.05M29.60,210.03L24.56,210.03M24.56,204.05L24.56,210.03M29.60,198.07L24.00,198.07M24.56,207.04L24.00,207.04M24.00,198.07L24.00,207.04M29.60,192.09L23.44,192.09M24.00,202.56L23.44,202.56M23.44,192.09L23.44,202.56M29.60,186.11L22.95,186.11M23.44,197.32L22.95,197.32M22.95,186.11L22.95,197.32M23.79,177.14L22.18,177.14M22.95,191.72L22.18,191.72M22.18,177.14L22.18,191.72M29.60,245.91L25.75,245.91M29.60,251.89L25.75,251.89M25.75,245.91L25.75,251.89M29.60,239.93L25.40,239.93M25.75,248.90L25.40,248.90M25.40,239.93L25.40,248.90M29.60,233.95L25.05,233.95M25.40,244.42L25.05,244.42M25.05,233.95L25.05,244.42M29.60,227.97L24.70,227.97M25.05,239.18L24.70,239.18M24.70,227.97L24.70,239.18M29.60,221.99L24.35,221.99M24.70,233.58L24.35,233.58M24.35,221.99L24.35,233.58M29.60,216.01L24.00,216.01M24.35,227.78L24.00,227.78M24.00,216.01L24.00,227.78M29.60,287.77L24.56,287.77M29.60,293.75L24.56,293.75M24.56,287.77L24.56,293.75M29.60,281.79L24.14,281.79M24.56,290.76L24.14,290.76M24.14,281.79L24.14,290.76M29.60,275.81L23.86,275.81M24.14,286.27L23.86,286.27M23.86,275.81L23.86,286.27M29.60,269.83L23.44,269.83M23.86,281.04L23.44,281.04M23.44,269.83L23.44,281.04M29.60,263.85L22.95,263.85M23.44,275.44L22.95,275.44M22.95,263.85L22.95,275.44M29.60,257.87L22.53,257.87M22.95,269.64L22.53,269.64M22.53,257.87L22.53,269.64M24.00,221.90L14.90,221.90M22.53,263.76L14.90,263.76M14.90,221.90L14.90,263.76M22.18,184.43L11.68,184.43M14.90,242.83L11.68,242.83M11.68,184.43L11.68,242.83M18.54,149.11L8.67,149.11M11.68,213.63L8.67,213.63M8.67,149.11L8.67,213.63" stroke="#3a3a3a" stroke-width="0.8" fill="none"/>
<defs><linearGradient id="gB" x1="0" y1="0" x2="0" y2="1"><stop offset="0.000" stop-color="#f7fbff"/><stop offset="0.050" stop-color="#edf5fc"/><stop offset="0.100" stop-color="#e3eef9"/><stop offset="0.150" stop-color="#d9e8f5"/><stop offset="0.200" stop-color="#d0e1f2"/><stop offset="0.250" stop-color="#c6dbef"/><stop offset="0.300" stop-color="#b6d4e9"/><stop offset="0.350" stop-color="#a6cde4"/><stop offset="0.400" stop-color="#94c4df"/><stop offset="0.450" stop-color="#7fb9da"/><stop offset="0.500" stop-color="#6baed6"/><stop offset="0.550" stop-color="#5ba3d0"/><stop offset="0.600" stop-color="#4a98c9"/><stop offset="0.650" stop-color="#3b8bc3"/><stop offset="0.700" stop-color="#2e7ebc"/><stop offset="0.750" stop-color="#2171b5"/><stop offset="0.800" stop-color="#1764ab"/><stop offset="0.850" stop-color="#0d57a1"/><stop offset="0.900" stop-color="#08488d"/><stop offset="0.950" stop-color="#093670"/><stop offset="1.000" stop-color="#0a2452"/></linearGradient><linearGradient id="gP" x1="0" y1="0" x2="0" y2="1"><stop offset="0" stop-color="#e41a1c"/><stop offset="0.35" stop-color="#de1f6a"/><stop offset="0.6" stop-color="#a02890"/><stop offset="1" stop-color="#2b4fa5"/></linearGradient><linearGradient id="gF" x1="0" y1="0" x2="0" y2="1"><stop offset="0" stop-color="#d73027"/><stop offset="0.167" stop-color="#fc8d59"/><stop offset="0.333" stop-color="#fee090"/><stop offset="0.5" stop-color="#ffffbf"/><stop offset="0.667" stop-color="#e0f3f8"/><stop offset="0.833" stop-color="#91bfdb"/><stop offset="1" stop-color="#4575b4"/></linearGradient><linearGradient id="gR" x1="0" y1="0" x2="1" y2="0"><stop offset="0" stop-color="#d42c1e"/><stop offset="0.18" stop-color="#d8321f"/><stop offset="0.2" stop-color="#e45a3c"/><stop offset="0.34" stop-color="#e8623f"/><stop offset="0.35" stop-color="#f4a083"/><stop offset="0.58" stop-color="#f6aa8c"/><stop offset="0.6" stop-color="#fcd9c8"/><stop offset="0.64" stop-color="#fde0d2"/><stop offset="0.66" stop-color="#eef2f6"/><stop offset="0.74" stop-color="#e8eef5"/><stop offset="0.76" stop-color="#a6c8e2"/><stop offset="0.81" stop-color="#98c2e0"/><stop offset="0.82" stop-color="#5a9ad0"/><stop offset="0.87" stop-color="#4a8cc8"/><stop offset="0.88" stop-color="#2a6cb4"/><stop offset="1" stop-color="#2469b2"/></linearGradient></defs>
<rect x="244.60" y="130.90" width="5.20" height="84.40" fill="url(#gB)" stroke="none" stroke-width="1" />
<text x="252.30" y="146.90" font-size="7.4" text-anchor="start" fill="#231f20" stroke="#231f20" stroke-width="0.13" font-weight="normal" >400</text>
<text x="252.30" y="164.90" font-size="7.4" text-anchor="start" fill="#231f20" stroke="#231f20" stroke-width="0.13" font-weight="normal" >300</text>
<text x="252.30" y="183.00" font-size="7.4" text-anchor="start" fill="#231f20" stroke="#231f20" stroke-width="0.13" font-weight="normal" >200</text>
<text x="252.30" y="200.40" font-size="7.4" text-anchor="start" fill="#231f20" stroke="#231f20" stroke-width="0.13" font-weight="normal" >100</text>
<text x="252.30" y="218.00" font-size="7.4" text-anchor="start" fill="#231f20" stroke="#231f20" stroke-width="0.13" font-weight="normal" >0</text>
<rect x="28.70" y="112.30" width="54.90" height="250.40" fill="none" stroke="#f5a623" stroke-width="1.3" />
<g transform="translate(32.06,300.6) rotate(90)"><g transform="scale(0.975,1)"><text x="0" y="0" font-size="7.3" fill="#d2334a" stroke="#d2334a" stroke-width="0.08">Day34 MT1-iPSC4</text></g></g>
<g transform="translate(39.58,300.6) rotate(90)"><g transform="scale(0.975,1)"><text x="0" y="0" font-size="7.3" fill="#d2334a" stroke="#d2334a" stroke-width="0.08">Day34 MT1-iPSC1</text></g></g>
<g transform="translate(47.10,300.6) rotate(90)"><g transform="scale(0.975,1)"><text x="0" y="0" font-size="7.3" fill="#d2334a" stroke="#d2334a" stroke-width="0.08">Day34 MT1-iPSC3</text></g></g>
<g transform="translate(54.62,300.6) rotate(90)"><g transform="scale(0.975,1)"><text x="0" y="0" font-size="7.3" fill="#d2334a" stroke="#d2334a" stroke-width="0.08">Day34 MT1-iPSC2</text></g></g>
<g transform="translate(62.14,300.6) rotate(90)"><g transform="scale(0.975,1)"><text x="0" y="0" font-size="7.3" fill="#3b6fa0" stroke="#3b6fa0" stroke-width="0.08">Day34 WT1-iPSC1</text></g></g>
<g transform="translate(69.66,300.6) rotate(90)"><g transform="scale(0.975,1)"><text x="0" y="0" font-size="7.3" fill="#3b6fa0" stroke="#3b6fa0" stroke-width="0.08">Day34 WT1-iPSC2</text></g></g>
<g transform="translate(77.18,300.6) rotate(90)"><g transform="scale(0.975,1)"><text x="0" y="0" font-size="7.3" fill="#3b6fa0" stroke="#3b6fa0" stroke-width="0.08">Day34 WT1-iPSC3</text></g></g>
<g transform="translate(84.70,300.6) rotate(90)"><g transform="scale(0.975,1)"><text x="0" y="0" font-size="7.3" fill="#3b6fa0" stroke="#3b6fa0" stroke-width="0.08">Day15 WT1-iPSC2</text></g></g>
<g transform="translate(92.22,300.6) rotate(90)"><g transform="scale(0.975,1)"><text x="0" y="0" font-size="7.3" fill="#3b6fa0" stroke="#3b6fa0" stroke-width="0.08">Day15 WT1-iPSC3</text></g></g>
<g transform="translate(99.74,300.6) rotate(90)"><g transform="scale(0.975,1)"><text x="0" y="0" font-size="7.3" fill="#d2334a" stroke="#d2334a" stroke-width="0.08">Day15 MT1-iPSC2</text></g></g>
<g transform="translate(107.26,300.6) rotate(90)"><g transform="scale(0.975,1)"><text x="0" y="0" font-size="7.3" fill="#3b6fa0" stroke="#3b6fa0" stroke-width="0.08">Day15 WT1-iPSC1</text></g></g>
<g transform="translate(114.78,300.6) rotate(90)"><g transform="scale(0.975,1)"><text x="0" y="0" font-size="7.3" fill="#d2334a" stroke="#d2334a" stroke-width="0.08">Day15 MT1-iPSC1</text></g></g>
<g transform="translate(122.30,300.6) rotate(90)"><g transform="scale(0.975,1)"><text x="0" y="0" font-size="7.3" fill="#d2334a" stroke="#d2334a" stroke-width="0.08">Day15 MT1-iPSC3</text></g></g>
<g transform="translate(129.82,300.6) rotate(90)"><g transform="scale(0.975,1)"><text x="0" y="0" font-size="7.3" fill="#d2334a" stroke="#d2334a" stroke-width="0.08">Day15 MT1-iPSC4</text></g></g>
<g transform="translate(137.34,300.6) rotate(90)"><g transform="scale(0.975,1)"><text x="0" y="0" font-size="7.3" fill="#d2334a" stroke="#d2334a" stroke-width="0.08">Day0 MT1-iPSC4</text></g></g>
<g transform="translate(144.86,300.6) rotate(90)"><g transform="scale(0.975,1)"><text x="0" y="0" font-size="7.3" fill="#d2334a" stroke="#d2334a" stroke-width="0.08">Day0 MT1-iPSC3</text></g></g>
<g transform="translate(152.38,300.6) rotate(90)"><g transform="scale(0.975,1)"><text x="0" y="0" font-size="7.3" fill="#d2334a" stroke="#d2334a" stroke-width="0.08">Day0 MT1-iPSC2</text></g></g>
<g transform="translate(159.90,300.6) rotate(90)"><g transform="scale(0.975,1)"><text x="0" y="0" font-size="7.3" fill="#3b6fa0" stroke="#3b6fa0" stroke-width="0.08">Day0 WT1-iPSC1</text></g></g>
<g transform="translate(167.42,300.6) rotate(90)"><g transform="scale(0.975,1)"><text x="0" y="0" font-size="7.3" fill="#3b6fa0" stroke="#3b6fa0" stroke-width="0.08">Day0 WT1-iPSC3</text></g></g>
<g transform="translate(174.94,300.6) rotate(90)"><g transform="scale(0.975,1)"><text x="0" y="0" font-size="7.3" fill="#3b6fa0" stroke="#3b6fa0" stroke-width="0.08">Day0 WT1-iPSC2</text></g></g>
<g transform="translate(182.46,300.6) rotate(90)"><g transform="scale(0.975,1)"><text x="0" y="0" font-size="7.3" fill="#d2334a" stroke="#d2334a" stroke-width="0.08">Day0 MT1-iPSC1</text></g></g>
<g transform="translate(189.98,300.6) rotate(90)"><g transform="scale(0.975,1)"><text x="0" y="0" font-size="7.3" fill="#d2334a" stroke="#d2334a" stroke-width="0.08">Day8 MT1-iPSC1</text></g></g>
<g transform="translate(197.50,300.6) rotate(90)"><g transform="scale(0.975,1)"><text x="0" y="0" font-size="7.3" fill="#d2334a" stroke="#d2334a" stroke-width="0.08">Day8 MT1-iPSC4</text></g></g>
<g transform="translate(205.02,300.6) rotate(90)"><g transform="scale(0.975,1)"><text x="0" y="0" font-size="7.3" fill="#d2334a" stroke="#d2334a" stroke-width="0.08">Day8 MT1-iPSC2</text></g></g>
<g transform="translate(212.54,300.6) rotate(90)"><g transform="scale(0.975,1)"><text x="0" y="0" font-size="7.3" fill="#3b6fa0" stroke="#3b6fa0" stroke-width="0.08">Day8 WT1-iPSC1</text></g></g>
<g transform="translate(220.06,300.6) rotate(90)"><g transform="scale(0.975,1)"><text x="0" y="0" font-size="7.3" fill="#d2334a" stroke="#d2334a" stroke-width="0.08">Day8 MT1-iPSC3</text></g></g>
<g transform="translate(227.58,300.6) rotate(90)"><g transform="scale(0.975,1)"><text x="0" y="0" font-size="7.3" fill="#3b6fa0" stroke="#3b6fa0" stroke-width="0.08">Day8 WT1-iPSC2</text></g></g>
<g transform="translate(235.10,300.6) rotate(90)"><g transform="scale(0.975,1)"><text x="0" y="0" font-size="7.3" fill="#3b6fa0" stroke="#3b6fa0" stroke-width="0.08">Day8 WT1-iPSC3</text></g></g>
<path d="M29.00,365.5 V368.5 H83.00 V365.5 M56.00,368.5 V371.3" fill="none" stroke="#231f20" stroke-width="0.9"/>
<text x="56.00" y="379.50" font-size="7.45" text-anchor="middle" fill="#231f20" stroke="#231f20" stroke-width="0.13" font-weight="normal" >Erythroblast</text>
<path d="M85.50,365.5 V368.5 H134.60 V365.5 M110.05,368.5 V371.3" fill="none" stroke="#231f20" stroke-width="0.9"/>
<text x="110.05" y="379.50" font-size="7.45" text-anchor="middle" fill="#231f20" stroke="#231f20" stroke-width="0.13" font-weight="normal" >CD43+CD34+</text>
<text x="110.05" y="389.80" font-size="7.45" text-anchor="middle" fill="#231f20" stroke="#231f20" stroke-width="0.13" font-weight="normal" >CD38−Lin−</text>
<path d="M137.40,365.5 V368.5 H187.70 V365.5 M162.55,368.5 V371.3" fill="none" stroke="#231f20" stroke-width="0.9"/>
<text x="162.55" y="379.50" font-size="7.45" text-anchor="middle" fill="#231f20" stroke="#231f20" stroke-width="0.13" font-weight="normal" >iPSC</text>
<path d="M190.50,365.5 V368.5 H240.80 V365.5 M215.65,368.5 V371.3" fill="none" stroke="#231f20" stroke-width="0.9"/>
<text x="215.65" y="379.50" font-size="7.45" text-anchor="middle" fill="#231f20" stroke="#231f20" stroke-width="0.13" font-weight="normal" >Day8 CD34+</text>
<text x="6.60" y="400.50" font-size="10.8" text-anchor="start" fill="#000" stroke="#000" stroke-width="0.13" font-weight="bold" >C</text>
<rect x="47.40" y="396.70" width="99.90" height="105.30" fill="none" stroke="#231f20" stroke-width="1.2" />
<line x1="44.60" y1="407.50" x2="47.40" y2="407.50" stroke="#231f20" stroke-width="1.0"/>
<text x="41.60" y="410.20" font-size="7.5" text-anchor="end" fill="#231f20" stroke="#231f20" stroke-width="0.13" font-weight="normal" >20</text>
<line x1="44.60" y1="425.60" x2="47.40" y2="425.60" stroke="#231f20" stroke-width="1.0"/>
<text x="41.60" y="428.30" font-size="7.5" text-anchor="end" fill="#231f20" stroke="#231f20" stroke-width="0.13" font-weight="normal" >10</text>
<line x1="44.60" y1="443.70" x2="47.40" y2="443.70" stroke="#231f20" stroke-width="1.0"/>
<text x="41.60" y="446.40" font-size="7.5" text-anchor="end" fill="#231f20" stroke="#231f20" stroke-width="0.13" font-weight="normal" >0</text>
<line x1="44.60" y1="461.80" x2="47.40" y2="461.80" stroke="#231f20" stroke-width="1.0"/>
<text x="41.60" y="464.50" font-size="7.5" text-anchor="end" fill="#231f20" stroke="#231f20" stroke-width="0.13" font-weight="normal" >−10</text>
<line x1="44.60" y1="479.90" x2="47.40" y2="479.90" stroke="#231f20" stroke-width="1.0"/>
<text x="41.60" y="482.60" font-size="7.5" text-anchor="end" fill="#231f20" stroke="#231f20" stroke-width="0.13" font-weight="normal" >−20</text>
<line x1="44.60" y1="498.00" x2="47.40" y2="498.00" stroke="#231f20" stroke-width="1.0"/>
<text x="41.60" y="500.70" font-size="7.5" text-anchor="end" fill="#231f20" stroke="#231f20" stroke-width="0.13" font-weight="normal" >−30</text>
<line x1="54.80" y1="502.00" x2="54.80" y2="504.80" stroke="#231f20" stroke-width="1.0"/>
<text x="54.80" y="513.30" font-size="7.5" text-anchor="middle" fill="#231f20" stroke="#231f20" stroke-width="0.13" font-weight="normal" >−75</text>
<line x1="76.60" y1="502.00" x2="76.60" y2="504.80" stroke="#231f20" stroke-width="1.0"/>
<text x="76.60" y="513.30" font-size="7.5" text-anchor="middle" fill="#231f20" stroke="#231f20" stroke-width="0.13" font-weight="normal" >−50</text>
<line x1="98.50" y1="502.00" x2="98.50" y2="504.80" stroke="#231f20" stroke-width="1.0"/>
<text x="98.50" y="513.30" font-size="7.5" text-anchor="middle" fill="#231f20" stroke="#231f20" stroke-width="0.13" font-weight="normal" >−25</text>
<line x1="120.30" y1="502.00" x2="120.30" y2="504.80" stroke="#231f20" stroke-width="1.0"/>
<text x="120.30" y="513.30" font-size="7.5" text-anchor="middle" fill="#231f20" stroke="#231f20" stroke-width="0.13" font-weight="normal" >0</text>
<line x1="142.00" y1="502.00" x2="142.00" y2="504.80" stroke="#231f20" stroke-width="1.0"/>
<text x="142.00" y="513.30" font-size="7.5" text-anchor="middle" fill="#231f20" stroke="#231f20" stroke-width="0.13" font-weight="normal" >25</text>
<g transform="translate(97.30,526.10) scale(0.69,1)"><text x="0" y="0" font-size="9" text-anchor="middle" fill="#231f20" stroke="#231f20" stroke-width="0.18">PC1: 53% variance</text></g>
<g transform="translate(21.9,449.5) rotate(-90) scale(0.69,1)"><text x="0" y="0" font-size="9" text-anchor="middle" fill="#231f20" stroke="#231f20" stroke-width="0.18">PC2: 21% variance</text></g>
<path d="M85.40,399.55 L87.90,404.18 L82.90,404.18 Z" fill="#c8102e"/>
<path d="M51.90,471.95 L54.40,476.57 L49.40,476.57 Z" fill="#1f4e8c"/>
<circle cx="128.10" cy="414.50" r="2.60" fill="#c8102e"/>
<circle cx="133.50" cy="409.30" r="2.60" fill="#c8102e"/>
<circle cx="137.60" cy="412.20" r="2.60" fill="#c8102e"/>
<circle cx="138.40" cy="415.70" r="2.60" fill="#c8102e"/>
<circle cx="138.40" cy="483.70" r="2.60" fill="#1f4e8c"/>
<circle cx="141.30" cy="484.60" r="2.60" fill="#1f4e8c"/>
<circle cx="136.40" cy="497.00" r="2.60" fill="#1f4e8c"/>
<text x="162.00" y="412.20" font-size="7.1" text-anchor="start" fill="#231f20" stroke="#231f20" stroke-width="0.13" font-weight="normal" >ALAS2</text>
<circle cx="164.50" cy="421.80" r="2.50" fill="#c8102e"/>
<text x="169.60" y="424.50" font-size="7.1" text-anchor="start" fill="#231f20" stroke="#231f20" stroke-width="0.13" font-weight="normal" >MT</text>
<circle cx="164.50" cy="432.60" r="2.50" fill="#1f4e8c"/>
<text x="169.60" y="435.30" font-size="7.1" text-anchor="start" fill="#231f20" stroke="#231f20" stroke-width="0.13" font-weight="normal" >WT</text>
<text x="162.00" y="460.00" font-size="7.1" text-anchor="start" fill="#231f20" stroke="#231f20" stroke-width="0.13" font-weight="normal" >Day</text>
<circle cx="164.50" cy="469.50" r="2.50" fill="#000"/>
<text x="169.60" y="472.20" font-size="7.1" text-anchor="start" fill="#231f20" stroke="#231f20" stroke-width="0.13" font-weight="normal" >Day34</text>
<path d="M164.50,478.46 L166.90,482.90 L162.10,482.90 Z" fill="#000"/>
<text x="169.60" y="483.60" font-size="7.1" text-anchor="start" fill="#231f20" stroke="#231f20" stroke-width="0.13" font-weight="normal" >Primary</text>
<text x="271.40" y="108.50" font-size="10.8" text-anchor="start" fill="#000" stroke="#000" stroke-width="0.13" font-weight="bold" >D</text>
<text x="436.30" y="106.00" font-size="8" text-anchor="middle" fill="#231f20" stroke="#231f20" stroke-width="0.13" font-weight="normal" >Go analysis</text>
<text x="436.30" y="115.20" font-size="8" text-anchor="middle" fill="#231f20" stroke="#231f20" stroke-width="0.13" font-weight="normal" >(molecular function top 30)</text>
<defs><clipPath id="clipD"><rect x="389.0" y="119.8" width="94.0" height="232.2"/></clipPath></defs>
<g transform="translate(382.60,126.80) scale(0.756565843997166,1)"><text x="0" y="0" font-size="6.3" text-anchor="end" fill="#231f20" stroke="#231f20" stroke-width="0.15">Small GTPase binding</text></g>
<line x1="385.80" y1="124.70" x2="389.00" y2="124.70" stroke="#231f20" stroke-width="0.9"/>
<g transform="translate(382.60,135.70) scale(0.7727188924278838,1)"><text x="0" y="0" font-size="6.3" text-anchor="end" fill="#231f20" stroke="#231f20" stroke-width="0.15">Cell adhesion molecule binding</text></g>
<line x1="385.80" y1="133.60" x2="389.00" y2="133.60" stroke="#231f20" stroke-width="0.9"/>
<g transform="translate(382.60,144.60) scale(0.7520705792190989,1)"><text x="0" y="0" font-size="6.3" text-anchor="end" fill="#231f20" stroke="#231f20" stroke-width="0.15">Ras GTPase binding</text></g>
<line x1="385.80" y1="142.50" x2="389.00" y2="142.50" stroke="#231f20" stroke-width="0.9"/>
<g transform="translate(382.60,153.50) scale(0.7806225588997752,1)"><text x="0" y="0" font-size="6.3" text-anchor="end" fill="#231f20" stroke="#231f20" stroke-width="0.15">Protein serine/threonine kinase activity</text></g>
<line x1="385.80" y1="151.40" x2="389.00" y2="151.40" stroke="#231f20" stroke-width="0.9"/>
<g transform="translate(382.60,162.40) scale(0.7142064868122483,1)"><text x="0" y="0" font-size="6.3" text-anchor="end" fill="#231f20" stroke="#231f20" stroke-width="0.15">Actin binding</text></g>
<line x1="385.80" y1="160.30" x2="389.00" y2="160.30" stroke="#231f20" stroke-width="0.9"/>
<g transform="translate(382.60,171.30) scale(0.7520871442792038,1)"><text x="0" y="0" font-size="6.3" text-anchor="end" fill="#231f20" stroke="#231f20" stroke-width="0.15">Phospholipid binding</text></g>
<line x1="385.80" y1="169.20" x2="389.00" y2="169.20" stroke="#231f20" stroke-width="0.9"/>
<g transform="translate(382.60,180.20) scale(0.7849196655761542,1)"><text x="0" y="0" font-size="6.3" text-anchor="end" fill="#231f20" stroke="#231f20" stroke-width="0.15">Nucleoside−triphosphatase regulator activity</text></g>
<line x1="385.80" y1="178.10" x2="389.00" y2="178.10" stroke="#231f20" stroke-width="0.9"/>
<g transform="translate(382.60,189.10) scale(0.7631005207056496,1)"><text x="0" y="0" font-size="6.3" text-anchor="end" fill="#231f20" stroke="#231f20" stroke-width="0.15">GTPase regulator activity</text></g>
<line x1="385.80" y1="187.00" x2="389.00" y2="187.00" stroke="#231f20" stroke-width="0.9"/>
<g transform="translate(382.60,198.00) scale(0.7623296030401568,1)"><text x="0" y="0" font-size="6.3" text-anchor="end" fill="#231f20" stroke="#231f20" stroke-width="0.15">GTPase activator activity</text></g>
<line x1="385.80" y1="195.90" x2="389.00" y2="195.90" stroke="#231f20" stroke-width="0.9"/>
<g transform="translate(382.60,206.90) scale(0.7839866159065308,1)"><text x="0" y="0" font-size="6.3" text-anchor="end" fill="#231f20" stroke="#231f20" stroke-width="0.15">Guanyl−nucleotide exchange factor activity</text></g>
<line x1="385.80" y1="204.80" x2="389.00" y2="204.80" stroke="#231f20" stroke-width="0.9"/>
<g transform="translate(382.60,215.80) scale(0.7524452027653492,1)"><text x="0" y="0" font-size="6.3" text-anchor="end" fill="#231f20" stroke="#231f20" stroke-width="0.15">Rho GTPase binding</text></g>
<line x1="385.80" y1="213.70" x2="389.00" y2="213.70" stroke="#231f20" stroke-width="0.9"/>
<g transform="translate(382.60,224.70) scale(0.7538839337229762,1)"><text x="0" y="0" font-size="6.3" text-anchor="end" fill="#231f20" stroke="#231f20" stroke-width="0.15">Actin filament binding</text></g>
<line x1="385.80" y1="222.60" x2="389.00" y2="222.60" stroke="#231f20" stroke-width="0.9"/>
<g transform="translate(382.60,233.60) scale(0.786624352541877,1)"><text x="0" y="0" font-size="6.3" text-anchor="end" fill="#231f20" stroke="#231f20" stroke-width="0.15">Ras guanyl−nucleotide exchange factor activity</text></g>
<line x1="385.80" y1="231.50" x2="389.00" y2="231.50" stroke="#231f20" stroke-width="0.9"/>
<g transform="translate(382.60,242.50) scale(0.7715153940314439,1)"><text x="0" y="0" font-size="6.3" text-anchor="end" fill="#231f20" stroke="#231f20" stroke-width="0.15">Protein tyrosine kinase activity</text></g>
<line x1="385.80" y1="240.40" x2="389.00" y2="240.40" stroke="#231f20" stroke-width="0.9"/>
<g transform="translate(382.60,251.40) scale(0.7538807713578843,1)"><text x="0" y="0" font-size="6.3" text-anchor="end" fill="#231f20" stroke="#231f20" stroke-width="0.15">Growth factor binding</text></g>
<line x1="385.80" y1="249.30" x2="389.00" y2="249.30" stroke="#231f20" stroke-width="0.9"/>
<g transform="translate(382.60,260.30) scale(0.7505496859333379,1)"><text x="0" y="0" font-size="6.3" text-anchor="end" fill="#231f20" stroke="#231f20" stroke-width="0.15">SH3 domain binding</text></g>
<line x1="385.80" y1="258.20" x2="389.00" y2="258.20" stroke="#231f20" stroke-width="0.9"/>
<g transform="translate(382.60,269.20) scale(0.786697803612955,1)"><text x="0" y="0" font-size="6.3" text-anchor="end" fill="#231f20" stroke="#231f20" stroke-width="0.15">Rho guanyl−nucleotide exchange factor activity</text></g>
<line x1="385.80" y1="267.10" x2="389.00" y2="267.10" stroke="#231f20" stroke-width="0.9"/>
<g transform="translate(382.60,278.10) scale(0.7868964007267154,1)"><text x="0" y="0" font-size="6.3" text-anchor="end" fill="#231f20" stroke="#231f20" stroke-width="0.15">Transmembrane receptor protein kinase activity</text></g>
<line x1="385.80" y1="276.00" x2="389.00" y2="276.00" stroke="#231f20" stroke-width="0.9"/>
<g transform="translate(382.60,287.00) scale(0.7910163898278851,1)"><text x="0" y="0" font-size="6.3" text-anchor="end" fill="#231f20" stroke="#231f20" stroke-width="0.15">Transmembrane receptor protein tyrosine kinase activity</text></g>
<line x1="385.80" y1="284.90" x2="389.00" y2="284.90" stroke="#231f20" stroke-width="0.9"/>
<g transform="translate(382.60,295.90) scale(0.7450016007089586,1)"><text x="0" y="0" font-size="6.3" text-anchor="end" fill="#231f20" stroke="#231f20" stroke-width="0.15">Antioxidant activity</text></g>
<line x1="385.80" y1="293.80" x2="389.00" y2="293.80" stroke="#231f20" stroke-width="0.9"/>
<g transform="translate(382.60,304.80) scale(0.7718657071459268,1)"><text x="0" y="0" font-size="6.3" text-anchor="end" fill="#231f20" stroke="#231f20" stroke-width="0.15">Cell adhesion mediator activity</text></g>
<line x1="385.80" y1="302.70" x2="389.00" y2="302.70" stroke="#231f20" stroke-width="0.9"/>
<g transform="translate(382.60,313.70) scale(0.7601717042732308,1)"><text x="0" y="0" font-size="6.3" text-anchor="end" fill="#231f20" stroke="#231f20" stroke-width="0.15">Sulfotransferase activity</text></g>
<line x1="385.80" y1="311.60" x2="389.00" y2="311.60" stroke="#231f20" stroke-width="0.9"/>
<g transform="translate(382.60,322.60) scale(0.7505496859333379,1)"><text x="0" y="0" font-size="6.3" text-anchor="end" fill="#231f20" stroke="#231f20" stroke-width="0.15">SH2 domain binding</text></g>
<line x1="385.80" y1="320.50" x2="389.00" y2="320.50" stroke="#231f20" stroke-width="0.9"/>
<g transform="translate(382.60,331.50) scale(0.7905972213588384,1)"><text x="0" y="0" font-size="6.3" text-anchor="end" fill="#231f20" stroke="#231f20" stroke-width="0.15">Transition metal ion transmembrane transporter activity</text></g>
<line x1="385.80" y1="329.40" x2="389.00" y2="329.40" stroke="#231f20" stroke-width="0.9"/>
<g transform="translate(382.60,340.40) scale(0.7925364328960021,1)"><text x="0" y="0" font-size="6.3" text-anchor="end" fill="#231f20" stroke="#231f20" stroke-width="0.15">Divalent inorganic cation transmembrane transporter activity</text></g>
<line x1="385.80" y1="338.30" x2="389.00" y2="338.30" stroke="#231f20" stroke-width="0.9"/>
<g transform="translate(382.60,349.30) scale(0.7799059157764249,1)"><text x="0" y="0" font-size="6.3" text-anchor="end" fill="#231f20" stroke="#231f20" stroke-width="0.15">Platelet−derived growth factor binding</text></g>
<line x1="385.80" y1="347.20" x2="389.00" y2="347.20" stroke="#231f20" stroke-width="0.9"/>
<g clip-path="url(#clipD)"><circle cx="479.00" cy="124.80" r="4.40" fill="#e41e26"/><circle cx="479.70" cy="133.70" r="5.30" fill="#1f4fa0"/><circle cx="478.00" cy="142.60" r="5.00" fill="#e41e26"/><circle cx="477.50" cy="151.50" r="5.00" fill="#e41e26"/><circle cx="476.30" cy="160.40" r="5.30" fill="#e41e26"/><circle cx="471.10" cy="169.30" r="5.30" fill="#d4237a"/><circle cx="463.10" cy="178.20" r="5.30" fill="#e41e26"/><circle cx="450.20" cy="187.10" r="5.00" fill="#e0205a"/><circle cx="444.40" cy="196.00" r="4.75" fill="#dc2070"/><circle cx="439.40" cy="204.90" r="4.50" fill="#e41e26"/><circle cx="432.50" cy="213.80" r="4.50" fill="#e41e26"/><circle cx="430.60" cy="222.70" r="4.40" fill="#6b4099"/><circle cx="426.70" cy="231.60" r="4.30" fill="#e41e26"/><circle cx="423.50" cy="240.50" r="4.30" fill="#e41e26"/><circle cx="421.40" cy="249.40" r="4.30" fill="#e01e50"/><circle cx="419.50" cy="258.30" r="4.10" fill="#d0208a"/><circle cx="413.70" cy="267.20" r="3.80" fill="#e41e26"/><circle cx="412.80" cy="276.10" r="3.80" fill="#e41e26"/><circle cx="409.40" cy="285.00" r="3.65" fill="#e41e26"/><circle cx="409.60" cy="293.90" r="3.60" fill="#1f4e9c"/><circle cx="407.50" cy="302.80" r="3.60" fill="#e41e26"/><circle cx="403.60" cy="311.70" r="3.40" fill="#dc2070"/><circle cx="399.70" cy="320.60" r="3.10" fill="#6a3d9a"/><circle cx="399.70" cy="329.50" r="3.10" fill="#6a3d9a"/><circle cx="396.60" cy="338.40" r="2.90" fill="#6a3d9a"/><circle cx="393.50" cy="347.30" r="2.30" fill="#e8205a"/></g>
<rect x="389.00" y="119.80" width="94.00" height="232.20" fill="none" stroke="#231f20" stroke-width="1.1" />
<line x1="409.30" y1="352.00" x2="409.30" y2="354.50" stroke="#231f20" stroke-width="0.8"/>
<text x="409.30" y="363.90" font-size="7.2" text-anchor="middle" fill="#231f20" stroke="#231f20" stroke-width="0.13" font-weight="normal" >0.01</text>
<line x1="432.30" y1="352.00" x2="432.30" y2="354.50" stroke="#231f20" stroke-width="0.8"/>
<text x="432.30" y="363.90" font-size="7.2" text-anchor="middle" fill="#231f20" stroke="#231f20" stroke-width="0.13" font-weight="normal" >0.02</text>
<line x1="454.60" y1="352.00" x2="454.60" y2="354.50" stroke="#231f20" stroke-width="0.8"/>
<text x="454.60" y="363.90" font-size="7.2" text-anchor="middle" fill="#231f20" stroke="#231f20" stroke-width="0.13" font-weight="normal" >0.03</text>
<line x1="477.20" y1="352.00" x2="477.20" y2="354.50" stroke="#231f20" stroke-width="0.8"/>
<text x="477.20" y="363.90" font-size="7.2" text-anchor="middle" fill="#231f20" stroke="#231f20" stroke-width="0.13" font-weight="normal" >0.04</text>
<g transform="translate(435.80,375.20) scale(0.69,1)"><text x="0" y="0" font-size="8.5" text-anchor="middle" fill="#231f20" stroke="#231f20" stroke-width="0.18">GeneRatio</text></g>
<text x="486.90" y="188.60" font-size="7.4" text-anchor="start" fill="#231f20" stroke="#231f20" stroke-width="0.13" font-weight="normal" >p.adjust</text>
<rect x="487.30" y="193.00" width="9.00" height="44.60" fill="url(#gP)" stroke="none" stroke-width="1" />
<line x1="487.30" y1="201.50" x2="489.30" y2="201.50" stroke="#fff" stroke-width="0.7"/>
<line x1="494.30" y1="201.50" x2="496.30" y2="201.50" stroke="#fff" stroke-width="0.7"/>
<text x="499.00" y="204.10" font-size="7.4" text-anchor="start" fill="#231f20" stroke="#231f20" stroke-width="0.13" font-weight="normal" >0.01</text>
<line x1="487.30" y1="211.60" x2="489.30" y2="211.60" stroke="#fff" stroke-width="0.7"/>
<line x1="494.30" y1="211.60" x2="496.30" y2="211.60" stroke="#fff" stroke-width="0.7"/>
<text x="499.00" y="214.20" font-size="7.4" text-anchor="start" fill="#231f20" stroke="#231f20" stroke-width="0.13" font-weight="normal" >0.02</text>
<line x1="487.30" y1="221.50" x2="489.30" y2="221.50" stroke="#fff" stroke-width="0.7"/>
<line x1="494.30" y1="221.50" x2="496.30" y2="221.50" stroke="#fff" stroke-width="0.7"/>
<text x="499.00" y="224.10" font-size="7.4" text-anchor="start" fill="#231f20" stroke="#231f20" stroke-width="0.13" font-weight="normal" >0.03</text>
<line x1="487.30" y1="231.80" x2="489.30" y2="231.80" stroke="#fff" stroke-width="0.7"/>
<line x1="494.30" y1="231.80" x2="496.30" y2="231.80" stroke="#fff" stroke-width="0.7"/>
<text x="499.00" y="234.40" font-size="7.4" text-anchor="start" fill="#231f20" stroke="#231f20" stroke-width="0.13" font-weight="normal" >0.04</text>
<text x="486.90" y="254.90" font-size="7.4" text-anchor="start" fill="#231f20" stroke="#231f20" stroke-width="0.13" font-weight="normal" >Count</text>
<circle cx="491.30" cy="261.70" r="4.20" fill="#000"/>
<text x="499.00" y="264.30" font-size="7.4" text-anchor="start" fill="#231f20" stroke="#231f20" stroke-width="0.13" font-weight="normal" >25</text>
<circle cx="491.30" cy="271.20" r="4.80" fill="#000"/>
<text x="499.00" y="273.80" font-size="7.4" text-anchor="start" fill="#231f20" stroke="#231f20" stroke-width="0.13" font-weight="normal" >50</text>
<circle cx="491.30" cy="281.50" r="5.50" fill="#000"/>
<text x="499.00" y="284.10" font-size="7.4" text-anchor="start" fill="#231f20" stroke="#231f20" stroke-width="0.13" font-weight="normal" >75</text>
<text x="381.00" y="385.50" font-size="8" text-anchor="middle" fill="#231f20" stroke="#231f20" stroke-width="0.13" font-weight="normal" >Go analysis</text>
<text x="381.00" y="394.00" font-size="8" text-anchor="middle" fill="#231f20" stroke="#231f20" stroke-width="0.13" font-weight="normal" >(molecular function top 30)</text>
<circle cx="440.80" cy="421.30" r="5.60" fill="#e41e26"/>
<circle cx="322.70" cy="459.50" r="2.10" fill="#1f4fa0"/>
<rect x="316.00" y="398.80" width="129.50" height="82.40" fill="none" stroke="#231f20" stroke-width="1.0" />
<text x="310.30" y="415.30" font-size="7.3" text-anchor="end" fill="#231f20" stroke="#231f20" stroke-width="0.13" font-weight="normal" >Protein</text>
<text x="310.30" y="424.70" font-size="7.3" text-anchor="end" fill="#231f20" stroke="#231f20" stroke-width="0.13" font-weight="normal" >heterodimerization</text>
<text x="310.30" y="434.10" font-size="7.3" text-anchor="end" fill="#231f20" stroke="#231f20" stroke-width="0.13" font-weight="normal" >activity</text>
<line x1="311.60" y1="422.00" x2="316.00" y2="422.00" stroke="#231f20" stroke-width="0.8"/>
<text x="310.30" y="452.80" font-size="7.3" text-anchor="end" fill="#231f20" stroke="#231f20" stroke-width="0.13" font-weight="normal" >Lipid</text>
<text x="310.30" y="462.20" font-size="7.3" text-anchor="end" fill="#231f20" stroke="#231f20" stroke-width="0.13" font-weight="normal" >transporter</text>
<text x="310.30" y="471.60" font-size="7.3" text-anchor="end" fill="#231f20" stroke="#231f20" stroke-width="0.13" font-weight="normal" >activity</text>
<line x1="311.60" y1="459.50" x2="316.00" y2="459.50" stroke="#231f20" stroke-width="0.8"/>
<line x1="331.00" y1="481.20" x2="331.00" y2="483.70" stroke="#231f20" stroke-width="0.8"/>
<text x="331.00" y="491.80" font-size="7.3" text-anchor="middle" fill="#231f20" stroke="#231f20" stroke-width="0.13" font-weight="normal" >0.03</text>
<line x1="357.80" y1="481.20" x2="357.80" y2="483.70" stroke="#231f20" stroke-width="0.8"/>
<text x="357.80" y="491.80" font-size="7.3" text-anchor="middle" fill="#231f20" stroke="#231f20" stroke-width="0.13" font-weight="normal" >0.04</text>
<line x1="385.20" y1="481.20" x2="385.20" y2="483.70" stroke="#231f20" stroke-width="0.8"/>
<text x="385.20" y="491.80" font-size="7.3" text-anchor="middle" fill="#231f20" stroke="#231f20" stroke-width="0.13" font-weight="normal" >0.05</text>
<line x1="413.00" y1="481.20" x2="413.00" y2="483.70" stroke="#231f20" stroke-width="0.8"/>
<text x="413.00" y="491.80" font-size="7.3" text-anchor="middle" fill="#231f20" stroke="#231f20" stroke-width="0.13" font-weight="normal" >0.06</text>
<line x1="440.60" y1="481.20" x2="440.60" y2="483.70" stroke="#231f20" stroke-width="0.8"/>
<text x="440.60" y="491.80" font-size="7.3" text-anchor="middle" fill="#231f20" stroke="#231f20" stroke-width="0.13" font-weight="normal" >0.07</text>
<g transform="translate(380.80,504.40) scale(0.69,1)"><text x="0" y="0" font-size="8.5" text-anchor="middle" fill="#231f20" stroke="#231f20" stroke-width="0.18">GeneRatio</text></g>
<text x="452.60" y="393.80" font-size="7.0" text-anchor="start" fill="#231f20" stroke="#231f20" stroke-width="0.13" font-weight="normal" >p.adjust</text>
<rect x="452.70" y="397.00" width="9.20" height="45.00" fill="url(#gP)" stroke="none" stroke-width="1" />
<line x1="452.70" y1="398.80" x2="454.70" y2="398.80" stroke="#fff" stroke-width="0.7"/>
<line x1="459.90" y1="398.80" x2="461.90" y2="398.80" stroke="#fff" stroke-width="0.7"/>
<text x="465.20" y="401.40" font-size="7.3" text-anchor="start" fill="#231f20" stroke="#231f20" stroke-width="0.13" font-weight="normal" >0.01</text>
<line x1="452.70" y1="414.20" x2="454.70" y2="414.20" stroke="#fff" stroke-width="0.7"/>
<line x1="459.90" y1="414.20" x2="461.90" y2="414.20" stroke="#fff" stroke-width="0.7"/>
<text x="465.20" y="416.80" font-size="7.3" text-anchor="start" fill="#231f20" stroke="#231f20" stroke-width="0.13" font-weight="normal" >0.02</text>
<line x1="452.70" y1="429.20" x2="454.70" y2="429.20" stroke="#fff" stroke-width="0.7"/>
<line x1="459.90" y1="429.20" x2="461.90" y2="429.20" stroke="#fff" stroke-width="0.7"/>
<text x="465.20" y="431.80" font-size="7.3" text-anchor="start" fill="#231f20" stroke="#231f20" stroke-width="0.13" font-weight="normal" >0.03</text>
<text x="449.80" y="451.00" font-size="7.3" text-anchor="start" fill="#231f20" stroke="#231f20" stroke-width="0.13" font-weight="normal" >Count</text>
<circle cx="457.50" cy="457.90" r="4.00" fill="#000"/>
<text x="465.20" y="460.50" font-size="7.3" text-anchor="start" fill="#231f20" stroke="#231f20" stroke-width="0.13" font-weight="normal" >15</text>
<circle cx="457.50" cy="467.10" r="4.60" fill="#000"/>
<text x="465.20" y="469.70" font-size="7.3" text-anchor="start" fill="#231f20" stroke="#231f20" stroke-width="0.13" font-weight="normal" >20</text>
<circle cx="457.50" cy="477.10" r="5.20" fill="#000"/>
<text x="465.20" y="479.70" font-size="7.3" text-anchor="start" fill="#231f20" stroke="#231f20" stroke-width="0.13" font-weight="normal" >25</text>
<circle cx="457.50" cy="488.30" r="5.80" fill="#000"/>
<text x="465.20" y="490.90" font-size="7.3" text-anchor="start" fill="#231f20" stroke="#231f20" stroke-width="0.13" font-weight="normal" >30</text>
<text x="6.00" y="541.00" font-size="10.8" text-anchor="start" fill="#000" stroke="#000" stroke-width="0.13" font-weight="bold" >E</text>
<text x="53.50" y="540.70" font-size="7.35" text-anchor="start" fill="#231f20" stroke="#231f20" stroke-width="0.13" font-weight="normal" >HALLMARK_HEME_METABOLISM</text>
<line x1="68.35" y1="546.00" x2="68.35" y2="596.00" stroke="#ececec" stroke-width="0.6"/>
<line x1="68.35" y1="619.00" x2="68.35" y2="649.00" stroke="#ececec" stroke-width="0.6"/>
<line x1="82.80" y1="546.00" x2="82.80" y2="596.00" stroke="#ececec" stroke-width="0.6"/>
<line x1="82.80" y1="619.00" x2="82.80" y2="649.00" stroke="#ececec" stroke-width="0.6"/>
<line x1="97.25" y1="546.00" x2="97.25" y2="596.00" stroke="#ececec" stroke-width="0.6"/>
<line x1="97.25" y1="619.00" x2="97.25" y2="649.00" stroke="#ececec" stroke-width="0.6"/>
<line x1="111.70" y1="546.00" x2="111.70" y2="596.00" stroke="#ececec" stroke-width="0.6"/>
<line x1="111.70" y1="619.00" x2="111.70" y2="649.00" stroke="#ececec" stroke-width="0.6"/>
<line x1="126.15" y1="546.00" x2="126.15" y2="596.00" stroke="#ececec" stroke-width="0.6"/>
<line x1="126.15" y1="619.00" x2="126.15" y2="649.00" stroke="#ececec" stroke-width="0.6"/>
<line x1="140.60" y1="546.00" x2="140.60" y2="596.00" stroke="#ececec" stroke-width="0.6"/>
<line x1="140.60" y1="619.00" x2="140.60" y2="649.00" stroke="#ececec" stroke-width="0.6"/>
<line x1="155.05" y1="546.00" x2="155.05" y2="596.00" stroke="#ececec" stroke-width="0.6"/>
<line x1="155.05" y1="619.00" x2="155.05" y2="649.00" stroke="#ececec" stroke-width="0.6"/>
<line x1="169.50" y1="546.00" x2="169.50" y2="596.00" stroke="#ececec" stroke-width="0.6"/>
<line x1="169.50" y1="619.00" x2="169.50" y2="649.00" stroke="#ececec" stroke-width="0.6"/>
<line x1="183.95" y1="546.00" x2="183.95" y2="596.00" stroke="#ececec" stroke-width="0.6"/>
<line x1="183.95" y1="619.00" x2="183.95" y2="649.00" stroke="#ececec" stroke-width="0.6"/>
<line x1="54.70" y1="546.50" x2="54.70" y2="649.20" stroke="#231f20" stroke-width="1.0"/>
<line x1="52.30" y1="549.70" x2="54.70" y2="549.70" stroke="#231f20" stroke-width="0.9"/>
<text x="48.40" y="552.40" font-size="7.5" text-anchor="end" fill="#231f20" stroke="#231f20" stroke-width="0.13" font-weight="normal" >0.5</text>
<line x1="52.30" y1="558.90" x2="54.70" y2="558.90" stroke="#231f20" stroke-width="0.9"/>
<text x="48.40" y="561.60" font-size="7.5" text-anchor="end" fill="#231f20" stroke="#231f20" stroke-width="0.13" font-weight="normal" >0.4</text>
<line x1="52.30" y1="568.10" x2="54.70" y2="568.10" stroke="#231f20" stroke-width="0.9"/>
<text x="48.40" y="570.80" font-size="7.5" text-anchor="end" fill="#231f20" stroke="#231f20" stroke-width="0.13" font-weight="normal" >0.3</text>
<line x1="52.30" y1="577.30" x2="54.70" y2="577.30" stroke="#231f20" stroke-width="0.9"/>
<text x="48.40" y="580.00" font-size="7.5" text-anchor="end" fill="#231f20" stroke="#231f20" stroke-width="0.13" font-weight="normal" >0.2</text>
<line x1="52.30" y1="586.50" x2="54.70" y2="586.50" stroke="#231f20" stroke-width="0.9"/>
<text x="48.40" y="589.20" font-size="7.5" text-anchor="end" fill="#231f20" stroke="#231f20" stroke-width="0.13" font-weight="normal" >0.1</text>
<line x1="52.30" y1="595.70" x2="54.70" y2="595.70" stroke="#231f20" stroke-width="0.9"/>
<text x="48.40" y="598.40" font-size="7.5" text-anchor="end" fill="#231f20" stroke="#231f20" stroke-width="0.13" font-weight="normal" >0.0</text>
<path d="M54.71,587.11 L56.06,586.43 L57.40,585.09 L58.34,584.41 L59.42,583.74 L60.77,583.07 L62.11,582.40 L62.79,579.70 L63.46,578.09 L64.80,577.69 L65.88,577.01 L66.82,575.67 L68.17,574.72 L68.84,572.30 L69.78,568.26 L70.86,566.92 L71.53,563.55 L72.21,562.61 L73.55,562.88 L74.90,561.80 L76.24,561.53 L77.32,560.19 L78.26,556.82 L79.61,555.48 L80.96,553.86 L82.30,553.19 L83.65,553.06 L84.72,552.11 L86.07,550.50 L87.69,548.34 L90.38,548.08 L94.41,548.34 L98.45,548.88 L101.14,549.15 L103.84,550.09 L110.00,553.10 L119.20,558.50 L128.50,565.40 L137.70,572.30 L146.90,578.50 L156.20,583.80 L160.80,585.40 L168.50,588.00 L176.20,591.20 L180.80,593.10 L185.40,595.40" fill="none" stroke="#5aa130" stroke-width="1.1"/>
<rect x="142.60" y="545.50" width="40.50" height="21.00" fill="#fff" stroke="none" stroke-width="1" />
<text x="144.00" y="554.20" font-size="7.6" text-anchor="start" fill="#231f20" stroke="#231f20" stroke-width="0.13" font-weight="normal" >NES=1.33</text>
<text x="144.00" y="563.50" font-size="7.6" text-anchor="start" fill="#231f20" stroke="#231f20" stroke-width="0.13" font-weight="normal" >FDR=0.03</text>
<g transform="translate(22.0,575) rotate(-90) scale(0.76,1)"><text x="0" y="0" font-size="8.2" text-anchor="middle" fill="#231f20" stroke="#231f20" stroke-width="0.18">Running</text></g>
<g transform="translate(33.0,575) rotate(-90) scale(0.76,1)"><text x="0" y="0" font-size="8.2" text-anchor="middle" fill="#231f20" stroke="#231f20" stroke-width="0.18">enrichment score</text></g>
<g><rect x="54.96" y="597.8" width="1.08" height="14.2" fill="#c8c8c8"/><rect x="56.04" y="597.8" width="2.02" height="14.2" fill="#555"/><rect x="58.06" y="597.8" width="1.75" height="14.2" fill="#888"/><rect x="59.81" y="597.8" width="2.29" height="14.2" fill="#aaa"/><rect x="62.09" y="597.8" width="2.02" height="14.2" fill="#777"/><rect x="64.11" y="597.8" width="2.69" height="14.2" fill="#bbb"/><rect x="66.80" y="597.8" width="1.35" height="14.2" fill="#111"/><rect x="68.15" y="597.8" width="2.02" height="14.2" fill="#777"/><rect x="70.17" y="597.8" width="1.75" height="14.2" fill="#151515"/><rect x="71.92" y="597.8" width="1.62" height="14.2" fill="#bbb"/><rect x="73.53" y="597.8" width="2.69" height="14.2" fill="#111"/><rect x="76.23" y="597.8" width="2.69" height="14.2" fill="#333"/><rect x="78.92" y="597.8" width="2.02" height="14.2" fill="#111"/><rect x="80.94" y="597.8" width="2.02" height="14.2" fill="#aaa"/><rect x="82.96" y="597.8" width="2.69" height="14.2" fill="#151515"/><rect x="85.65" y="597.8" width="1.62" height="14.2" fill="#444"/><rect x="87.26" y="597.8" width="1.75" height="14.2" fill="#aaa"/><rect x="89.01" y="597.8" width="3.36" height="14.2" fill="#111"/><rect x="92.38" y="597.8" width="2.02" height="14.2" fill="#888"/><rect x="94.40" y="597.8" width="2.69" height="14.2" fill="#181818"/><rect x="97.09" y="597.8" width="2.02" height="14.2" fill="#888"/><rect x="99.11" y="597.8" width="2.69" height="14.2" fill="#151515"/><rect x="101.80" y="597.8" width="2.02" height="14.2" fill="#bbb"/><rect x="103.82" y="597.8" width="2.02" height="14.2" fill="#111"/><rect x="105.84" y="597.8" width="2.02" height="14.2" fill="#ccc"/><rect x="107.85" y="597.8" width="3.36" height="14.2" fill="#151515"/><rect x="111.22" y="597.8" width="2.02" height="14.2" fill="#bbb"/><rect x="113.24" y="597.8" width="4.71" height="14.2" fill="#333"/><rect x="138.52" y="597.8" width="2.16" height="14.2" fill="#151515"/><rect x="140.69" y="597.8" width="2.45" height="14.2" fill="#eee"/><rect x="143.14" y="597.8" width="1.44" height="14.2" fill="#333"/><rect x="144.58" y="597.8" width="1.44" height="14.2" fill="#f2f2f2"/><rect x="146.02" y="597.8" width="2.45" height="14.2" fill="#111"/><rect x="148.48" y="597.8" width="1.88" height="14.2" fill="#ccc"/><rect x="150.35" y="597.8" width="2.16" height="14.2" fill="#888"/><rect x="152.52" y="597.8" width="2.16" height="14.2" fill="#ccc"/><rect x="154.68" y="597.8" width="2.89" height="14.2" fill="#444"/><rect x="157.57" y="597.8" width="2.16" height="14.2" fill="#111"/><rect x="159.73" y="597.8" width="2.16" height="14.2" fill="#999"/><rect x="161.90" y="597.8" width="1.44" height="14.2" fill="#151515"/><rect x="163.34" y="597.8" width="2.89" height="14.2" fill="#888"/><rect x="166.23" y="597.8" width="4.33" height="14.2" fill="#999"/><rect x="170.56" y="597.8" width="1.44" height="14.2" fill="#f2f2f2"/><rect x="172.00" y="597.8" width="2.16" height="14.2" fill="#555"/><rect x="174.16" y="597.8" width="2.16" height="14.2" fill="#eee"/><rect x="176.33" y="597.8" width="1.01" height="14.2" fill="#333"/><rect x="177.34" y="597.8" width="1.88" height="14.2" fill="#ccc"/><rect x="179.21" y="597.8" width="2.16" height="14.2" fill="#444"/><rect x="181.38" y="597.8" width="2.89" height="14.2" fill="#ccc"/></g>
<rect x="55.20" y="612.00" width="130.00" height="6.00" fill="url(#gR)" stroke="none" stroke-width="1" />
<text x="57.00" y="627.10" font-size="7.5" text-anchor="start" fill="#231f20" stroke="#231f20" stroke-width="0.13" font-weight="normal" >WT</text>
<text x="165.50" y="627.10" font-size="7.5" text-anchor="start" fill="#231f20" stroke="#231f20" stroke-width="0.13" font-weight="normal" >MT</text>
<line x1="54.70" y1="649.20" x2="185.20" y2="649.20" stroke="#231f20" stroke-width="1.0"/>
<line x1="52.30" y1="621.30" x2="54.70" y2="621.30" stroke="#231f20" stroke-width="0.9"/>
<text x="48.40" y="624.00" font-size="7.5" text-anchor="end" fill="#231f20" stroke="#231f20" stroke-width="0.13" font-weight="normal" >20</text>
<line x1="52.30" y1="628.20" x2="54.70" y2="628.20" stroke="#231f20" stroke-width="0.9"/>
<text x="48.40" y="630.90" font-size="7.5" text-anchor="end" fill="#231f20" stroke="#231f20" stroke-width="0.13" font-weight="normal" >10</text>
<line x1="52.30" y1="635.00" x2="54.70" y2="635.00" stroke="#231f20" stroke-width="0.9"/>
<text x="48.40" y="637.70" font-size="7.5" text-anchor="end" fill="#231f20" stroke="#231f20" stroke-width="0.13" font-weight="normal" >0</text>
<line x1="52.30" y1="641.80" x2="54.70" y2="641.80" stroke="#231f20" stroke-width="0.9"/>
<text x="48.40" y="644.50" font-size="7.5" text-anchor="end" fill="#231f20" stroke="#231f20" stroke-width="0.13" font-weight="normal" >−10</text>
<line x1="52.30" y1="648.70" x2="54.70" y2="648.70" stroke="#231f20" stroke-width="0.9"/>
<text x="48.40" y="651.40" font-size="7.5" text-anchor="end" fill="#231f20" stroke="#231f20" stroke-width="0.13" font-weight="normal" >−20</text>
<path d="M55.2,632.0 Q62,633.4 80,633.9 L170,634.4 Q182,634.6 185,636.2" fill="none" stroke="#b4b4b4" stroke-width="1.5"/>
<line x1="82.80" y1="649.20" x2="82.80" y2="651.60" stroke="#231f20" stroke-width="0.9"/>
<text x="82.80" y="661.00" font-size="7.5" text-anchor="middle" fill="#231f20" stroke="#231f20" stroke-width="0.13" font-weight="normal" >5000</text>
<line x1="111.90" y1="649.20" x2="111.90" y2="651.60" stroke="#231f20" stroke-width="0.9"/>
<text x="111.90" y="661.00" font-size="7.5" text-anchor="middle" fill="#231f20" stroke="#231f20" stroke-width="0.13" font-weight="normal" >10000</text>
<line x1="140.70" y1="649.20" x2="140.70" y2="651.60" stroke="#231f20" stroke-width="0.9"/>
<text x="140.70" y="661.00" font-size="7.5" text-anchor="middle" fill="#231f20" stroke="#231f20" stroke-width="0.13" font-weight="normal" >15000</text>
<line x1="169.50" y1="649.20" x2="169.50" y2="651.60" stroke="#231f20" stroke-width="0.9"/>
<text x="169.50" y="661.00" font-size="7.5" text-anchor="middle" fill="#231f20" stroke="#231f20" stroke-width="0.13" font-weight="normal" >20000</text>
<g transform="translate(120.00,671.20) scale(0.7,1)"><text x="0" y="0" font-size="9" text-anchor="middle" fill="#231f20" stroke="#231f20" stroke-width="0.18">Rank in ordered dataset</text></g>
<g transform="translate(20.6,635) rotate(-90) scale(0.8,1)"><text x="0" y="0" font-size="8.2" text-anchor="middle" fill="#231f20" stroke="#231f20" stroke-width="0.18">Ranked</text></g>
<g transform="translate(33.2,635) rotate(-90) scale(0.8,1)"><text x="0" y="0" font-size="8.2" text-anchor="middle" fill="#231f20" stroke="#231f20" stroke-width="0.18">list metric</text></g>
<text x="285.40" y="517.70" font-size="10.8" text-anchor="start" fill="#000" stroke="#000" stroke-width="0.13" font-weight="bold" >F</text>
<rect x="326.10" y="516.30" width="9.83" height="8.10" fill="#f5f2c8" stroke="#9c9c9c" stroke-width="0.7" />
<rect x="335.93" y="516.30" width="9.83" height="8.10" fill="#e8603a" stroke="#9c9c9c" stroke-width="0.7" />
<rect x="345.76" y="516.30" width="9.83" height="8.10" fill="#4575b4" stroke="#9c9c9c" stroke-width="0.7" />
<rect x="355.59" y="516.30" width="9.83" height="8.10" fill="#fbe09a" stroke="#9c9c9c" stroke-width="0.7" />
<text x="367.40" y="522.95" font-size="7.2" text-anchor="start" fill="#231f20" stroke="#231f20" stroke-width="0.13" font-weight="normal" >MALAT1</text>
<rect x="326.10" y="524.40" width="9.83" height="8.10" fill="#fbe09a" stroke="#9c9c9c" stroke-width="0.7" />
<rect x="335.93" y="524.40" width="9.83" height="8.10" fill="#e8603a" stroke="#9c9c9c" stroke-width="0.7" />
<rect x="345.76" y="524.40" width="9.83" height="8.10" fill="#4575b4" stroke="#9c9c9c" stroke-width="0.7" />
<rect x="355.59" y="524.40" width="9.83" height="8.10" fill="#f2f5d8" stroke="#9c9c9c" stroke-width="0.7" />
<text x="367.40" y="531.05" font-size="7.2" text-anchor="start" fill="#231f20" stroke="#231f20" stroke-width="0.13" font-weight="normal" >ARL4A</text>
<rect x="326.10" y="532.50" width="9.83" height="8.10" fill="#f8f0b8" stroke="#9c9c9c" stroke-width="0.7" />
<rect x="335.93" y="532.50" width="9.83" height="8.10" fill="#dc4a30" stroke="#9c9c9c" stroke-width="0.7" />
<rect x="345.76" y="532.50" width="9.83" height="8.10" fill="#4a7cb8" stroke="#9c9c9c" stroke-width="0.7" />
<rect x="355.59" y="532.50" width="9.83" height="8.10" fill="#f2f5d8" stroke="#9c9c9c" stroke-width="0.7" />
<text x="367.40" y="539.15" font-size="7.2" text-anchor="start" fill="#231f20" stroke="#231f20" stroke-width="0.13" font-weight="normal" >LPIN2</text>
<rect x="326.10" y="540.60" width="9.83" height="8.10" fill="#f4844e" stroke="#9c9c9c" stroke-width="0.7" />
<rect x="335.93" y="540.60" width="9.83" height="8.10" fill="#f4844e" stroke="#9c9c9c" stroke-width="0.7" />
<rect x="345.76" y="540.60" width="9.83" height="8.10" fill="#6a98c8" stroke="#9c9c9c" stroke-width="0.7" />
<rect x="355.59" y="540.60" width="9.83" height="8.10" fill="#b8d8e8" stroke="#9c9c9c" stroke-width="0.7" />
<text x="367.40" y="547.25" font-size="7.2" text-anchor="start" fill="#231f20" stroke="#231f20" stroke-width="0.13" font-weight="normal" >SLC2A1</text>
<rect x="326.10" y="548.70" width="9.83" height="8.10" fill="#f48c58" stroke="#9c9c9c" stroke-width="0.7" />
<rect x="335.93" y="548.70" width="9.83" height="8.10" fill="#f4844e" stroke="#9c9c9c" stroke-width="0.7" />
<rect x="345.76" y="548.70" width="9.83" height="8.10" fill="#5a8ac0" stroke="#9c9c9c" stroke-width="0.7" />
<rect x="355.59" y="548.70" width="9.83" height="8.10" fill="#cce6f0" stroke="#9c9c9c" stroke-width="0.7" />
<text x="367.40" y="555.35" font-size="7.2" text-anchor="start" fill="#231f20" stroke="#231f20" stroke-width="0.13" font-weight="normal" >XPO7</text>
<rect x="326.10" y="556.80" width="9.83" height="8.10" fill="#f4844e" stroke="#9c9c9c" stroke-width="0.7" />
<rect x="335.93" y="556.80" width="9.83" height="8.10" fill="#fbc47c" stroke="#9c9c9c" stroke-width="0.7" />
<rect x="345.76" y="556.80" width="9.83" height="8.10" fill="#4575b4" stroke="#9c9c9c" stroke-width="0.7" />
<rect x="355.59" y="556.80" width="9.83" height="8.10" fill="#f2f5d8" stroke="#9c9c9c" stroke-width="0.7" />
<text x="367.40" y="563.45" font-size="7.2" text-anchor="start" fill="#231f20" stroke="#231f20" stroke-width="0.13" font-weight="normal" >BNIP3L</text>
<rect x="326.10" y="564.90" width="9.83" height="8.10" fill="#f07a48" stroke="#9c9c9c" stroke-width="0.7" />
<rect x="335.93" y="564.90" width="9.83" height="8.10" fill="#fbb474" stroke="#9c9c9c" stroke-width="0.7" />
<rect x="345.76" y="564.90" width="9.83" height="8.10" fill="#4a7cb8" stroke="#9c9c9c" stroke-width="0.7" />
<rect x="355.59" y="564.90" width="9.83" height="8.10" fill="#d8eef4" stroke="#9c9c9c" stroke-width="0.7" />
<text x="367.40" y="571.55" font-size="7.2" text-anchor="start" fill="#231f20" stroke="#231f20" stroke-width="0.13" font-weight="normal" >SEC62</text>
<rect x="326.10" y="573.00" width="9.83" height="8.10" fill="#f07a48" stroke="#9c9c9c" stroke-width="0.7" />
<rect x="335.93" y="573.00" width="9.83" height="8.10" fill="#fbb474" stroke="#9c9c9c" stroke-width="0.7" />
<rect x="345.76" y="573.00" width="9.83" height="8.10" fill="#4a7cb8" stroke="#9c9c9c" stroke-width="0.7" />
<rect x="355.59" y="573.00" width="9.83" height="8.10" fill="#e6f2e0" stroke="#9c9c9c" stroke-width="0.7" />
<text x="367.40" y="579.65" font-size="7.2" text-anchor="start" fill="#231f20" stroke="#231f20" stroke-width="0.13" font-weight="normal" >SLC25A37</text>
<rect x="326.10" y="581.10" width="9.83" height="8.10" fill="#d73027" stroke="#9c9c9c" stroke-width="0.7" />
<rect x="335.93" y="581.10" width="9.83" height="8.10" fill="#fde8a0" stroke="#9c9c9c" stroke-width="0.7" />
<rect x="345.76" y="581.10" width="9.83" height="8.10" fill="#a8cce2" stroke="#9c9c9c" stroke-width="0.7" />
<rect x="355.59" y="581.10" width="9.83" height="8.10" fill="#90bcd8" stroke="#9c9c9c" stroke-width="0.7" />
<text x="367.40" y="587.75" font-size="7.2" text-anchor="start" fill="#231f20" stroke="#231f20" stroke-width="0.13" font-weight="normal" >ALAS2</text>
<rect x="326.10" y="589.20" width="9.83" height="8.10" fill="#dc3a2a" stroke="#9c9c9c" stroke-width="0.7" />
<rect x="335.93" y="589.20" width="9.83" height="8.10" fill="#fde8a0" stroke="#9c9c9c" stroke-width="0.7" />
<rect x="345.76" y="589.20" width="9.83" height="8.10" fill="#e4f2ee" stroke="#9c9c9c" stroke-width="0.7" />
<rect x="355.59" y="589.20" width="9.83" height="8.10" fill="#6090c4" stroke="#9c9c9c" stroke-width="0.7" />
<text x="367.40" y="595.85" font-size="7.2" text-anchor="start" fill="#231f20" stroke="#231f20" stroke-width="0.13" font-weight="normal" >BSG</text>
<rect x="326.10" y="597.30" width="9.83" height="8.10" fill="#e45634" stroke="#9c9c9c" stroke-width="0.7" />
<rect x="335.93" y="597.30" width="9.83" height="8.10" fill="#fbc47c" stroke="#9c9c9c" stroke-width="0.7" />
<rect x="345.76" y="597.30" width="9.83" height="8.10" fill="#c4e0ee" stroke="#9c9c9c" stroke-width="0.7" />
<rect x="355.59" y="597.30" width="9.83" height="8.10" fill="#6a98c8" stroke="#9c9c9c" stroke-width="0.7" />
<text x="367.40" y="603.95" font-size="7.2" text-anchor="start" fill="#231f20" stroke="#231f20" stroke-width="0.13" font-weight="normal" >TMCC2</text>
<rect x="326.10" y="605.40" width="9.83" height="8.10" fill="#ea6a3c" stroke="#9c9c9c" stroke-width="0.7" />
<rect x="335.93" y="605.40" width="9.83" height="8.10" fill="#dceef6" stroke="#9c9c9c" stroke-width="0.7" />
<rect x="345.76" y="605.40" width="9.83" height="8.10" fill="#fbc47c" stroke="#9c9c9c" stroke-width="0.7" />
<rect x="355.59" y="605.40" width="9.83" height="8.10" fill="#5080bc" stroke="#9c9c9c" stroke-width="0.7" />
<text x="367.40" y="612.05" font-size="7.2" text-anchor="start" fill="#231f20" stroke="#231f20" stroke-width="0.13" font-weight="normal" >HBD</text>
<rect x="326.10" y="613.50" width="9.83" height="8.10" fill="#e04a30" stroke="#9c9c9c" stroke-width="0.7" />
<rect x="335.93" y="613.50" width="9.83" height="8.10" fill="#fdf0b8" stroke="#9c9c9c" stroke-width="0.7" />
<rect x="345.76" y="613.50" width="9.83" height="8.10" fill="#f5f2c0" stroke="#9c9c9c" stroke-width="0.7" />
<rect x="355.59" y="613.50" width="9.83" height="8.10" fill="#4575b4" stroke="#9c9c9c" stroke-width="0.7" />
<text x="367.40" y="620.15" font-size="7.2" text-anchor="start" fill="#231f20" stroke="#231f20" stroke-width="0.13" font-weight="normal" >IFIT1B</text>
<path d="M331,516.3 V513.1 H341 V516.3 M350.6,516.3 V513.1 H360.4 V516.3 M336,513.1 V509.5 H355.5 V513.1" fill="none" stroke="#3a3a3a" stroke-width="0.8"/>
<path d="M325.60,528.45L323.10,528.45M325.60,536.55L323.10,536.55M323.10,528.45L323.10,536.55M325.60,520.35L322.10,520.35M323.10,532.50L322.10,532.50M322.10,520.35L322.10,532.50M325.60,544.65L323.10,544.65M325.60,552.75L323.10,552.75M323.10,544.65L323.10,552.75M325.60,568.95L323.40,568.95M325.60,577.05L323.40,577.05M323.40,568.95L323.40,577.05M325.60,560.85L322.40,560.85M323.40,573.00L322.40,573.00M322.40,560.85L322.40,573.00M323.10,548.70L321.40,548.70M322.40,566.92L321.40,566.92M321.40,548.70L321.40,566.92M322.10,526.42L319.60,526.42M321.40,557.81L319.60,557.81M319.60,526.42L319.60,557.81M325.60,593.25L323.10,593.25M325.60,601.35L323.10,601.35M323.10,593.25L323.10,601.35M325.60,585.15L322.10,585.15M323.10,597.30L322.10,597.30M322.10,585.15L322.10,597.30M325.60,609.45L322.40,609.45M325.60,617.55L322.40,617.55M322.40,609.45L322.40,617.55M322.10,591.22L318.60,591.22M322.40,613.50L318.60,613.50M318.60,591.22L318.60,613.50M319.60,542.12L314.10,542.12M318.60,602.36L314.10,602.36M314.10,542.12L314.10,602.36" fill="none" stroke="#3a3a3a" stroke-width="0.8"/>
<rect x="404.20" y="516.00" width="3.00" height="40.40" fill="url(#gF)" stroke="none" stroke-width="1" />
<text x="413.50" y="521.30" font-size="7.0" text-anchor="start" fill="#231f20" stroke="#231f20" stroke-width="0.13" font-weight="normal" >1</text>
<text x="413.50" y="529.10" font-size="7.0" text-anchor="start" fill="#231f20" stroke="#231f20" stroke-width="0.13" font-weight="normal" >0.5</text>
<text x="413.50" y="537.10" font-size="7.0" text-anchor="start" fill="#231f20" stroke="#231f20" stroke-width="0.13" font-weight="normal" >0</text>
<text x="409.00" y="545.50" font-size="7.0" text-anchor="start" fill="#231f20" stroke="#231f20" stroke-width="0.13" font-weight="normal" >−0.5</text>
<text x="409.00" y="553.40" font-size="7.0" text-anchor="start" fill="#231f20" stroke="#231f20" stroke-width="0.13" font-weight="normal" >−1</text>
<g transform="translate(328.50,624.8) rotate(90)"><text x="0" y="0" font-size="6.1" fill="#231f20" stroke="#231f20" stroke-width="0.12">Control BMCs</text></g>
<g transform="translate(337.70,624.8) rotate(90)"><text x="0" y="0" font-size="6.1" fill="#3b6fa0" stroke="#3b6fa0" stroke-width="0.12">WT1-erythroblasts</text></g>
<g transform="translate(348.10,624.8) rotate(90)"><text x="0" y="0" font-size="6.1" fill="#231f20" stroke="#231f20" stroke-width="0.12">SA3 BMCs</text></g>
<g transform="translate(358.50,624.8) rotate(90)"><text x="0" y="0" font-size="6.1" fill="#d2334a" stroke="#d2334a" stroke-width="0.12">MT1-erythroblasts</text></g>
<rect x="0" y="0" width="520" height="1.2" fill="#000"/><rect x="0" y="0" width="1.2" height="678" fill="#000"/><rect x="518.8" y="0" width="1.2" height="678" fill="#000"/><rect x="0" y="676.8" width="520" height="1.2" fill="#000"/>
</svg>
</body></html>
